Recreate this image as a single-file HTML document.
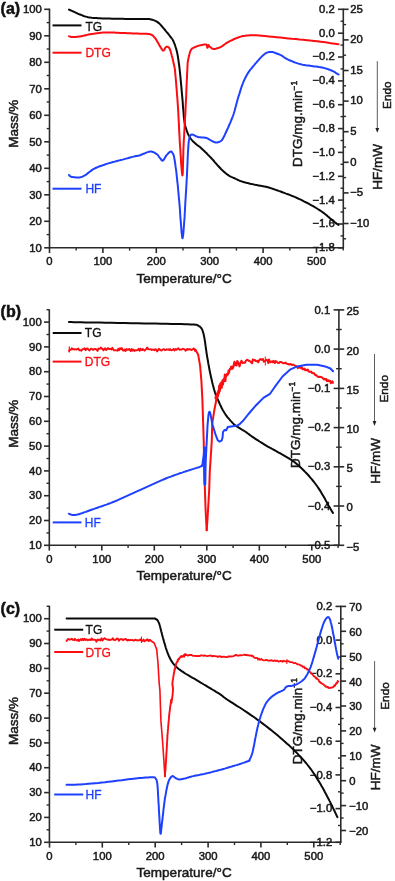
<!DOCTYPE html>
<html lang="en"><head><meta charset="utf-8"><title>TG / DTG / HF curves</title>
<style>html,body{margin:0;padding:0;background:#fff}svg{display:block;filter:blur(0.3px)}</style></head>
<body>
<svg width="395" height="881" viewBox="0 0 395 881" font-family='"Liberation Sans", Arial, Helvetica, sans-serif'>
<rect width="395" height="881" fill="#fff"/>
<line x1="49.5" y1="8.6" x2="49.5" y2="248.4" stroke="#2b2b2b" stroke-width="1.60"/>
<line x1="48.9" y1="247.8" x2="343.9" y2="247.8" stroke="#2b2b2b" stroke-width="1.60"/>
<line x1="343.3" y1="8.6" x2="343.3" y2="248.4" stroke="#2b2b2b" stroke-width="1.60"/>
<line x1="44.2" y1="9.3" x2="49.5" y2="9.3" stroke="#2b2b2b" stroke-width="1.60"/>
<text x="41.9" y="13.0" font-size="11.3" text-anchor="end" fill="#1a1a1a" stroke="#1a1a1a" stroke-width="0.50" font-weight="normal">100</text>
<line x1="46.7" y1="22.6" x2="49.5" y2="22.6" stroke="#2b2b2b" stroke-width="1.40"/>
<line x1="44.2" y1="35.8" x2="49.5" y2="35.8" stroke="#2b2b2b" stroke-width="1.60"/>
<text x="41.9" y="39.5" font-size="11.3" text-anchor="end" fill="#1a1a1a" stroke="#1a1a1a" stroke-width="0.50" font-weight="normal">90</text>
<line x1="46.7" y1="49.0" x2="49.5" y2="49.0" stroke="#2b2b2b" stroke-width="1.40"/>
<line x1="44.2" y1="62.3" x2="49.5" y2="62.3" stroke="#2b2b2b" stroke-width="1.60"/>
<text x="41.9" y="66.0" font-size="11.3" text-anchor="end" fill="#1a1a1a" stroke="#1a1a1a" stroke-width="0.50" font-weight="normal">80</text>
<line x1="46.7" y1="75.5" x2="49.5" y2="75.5" stroke="#2b2b2b" stroke-width="1.40"/>
<line x1="44.2" y1="88.8" x2="49.5" y2="88.8" stroke="#2b2b2b" stroke-width="1.60"/>
<text x="41.9" y="92.5" font-size="11.3" text-anchor="end" fill="#1a1a1a" stroke="#1a1a1a" stroke-width="0.50" font-weight="normal">70</text>
<line x1="46.7" y1="102.0" x2="49.5" y2="102.0" stroke="#2b2b2b" stroke-width="1.40"/>
<line x1="44.2" y1="115.3" x2="49.5" y2="115.3" stroke="#2b2b2b" stroke-width="1.60"/>
<text x="41.9" y="119.0" font-size="11.3" text-anchor="end" fill="#1a1a1a" stroke="#1a1a1a" stroke-width="0.50" font-weight="normal">60</text>
<line x1="46.7" y1="128.6" x2="49.5" y2="128.6" stroke="#2b2b2b" stroke-width="1.40"/>
<line x1="44.2" y1="141.8" x2="49.5" y2="141.8" stroke="#2b2b2b" stroke-width="1.60"/>
<text x="41.9" y="145.5" font-size="11.3" text-anchor="end" fill="#1a1a1a" stroke="#1a1a1a" stroke-width="0.50" font-weight="normal">50</text>
<line x1="46.7" y1="155.1" x2="49.5" y2="155.1" stroke="#2b2b2b" stroke-width="1.40"/>
<line x1="44.2" y1="168.3" x2="49.5" y2="168.3" stroke="#2b2b2b" stroke-width="1.60"/>
<text x="41.9" y="172.0" font-size="11.3" text-anchor="end" fill="#1a1a1a" stroke="#1a1a1a" stroke-width="0.50" font-weight="normal">40</text>
<line x1="46.7" y1="181.6" x2="49.5" y2="181.6" stroke="#2b2b2b" stroke-width="1.40"/>
<line x1="44.2" y1="194.8" x2="49.5" y2="194.8" stroke="#2b2b2b" stroke-width="1.60"/>
<text x="41.9" y="198.5" font-size="11.3" text-anchor="end" fill="#1a1a1a" stroke="#1a1a1a" stroke-width="0.50" font-weight="normal">30</text>
<line x1="46.7" y1="208.1" x2="49.5" y2="208.1" stroke="#2b2b2b" stroke-width="1.40"/>
<line x1="44.2" y1="221.3" x2="49.5" y2="221.3" stroke="#2b2b2b" stroke-width="1.60"/>
<text x="41.9" y="225.0" font-size="11.3" text-anchor="end" fill="#1a1a1a" stroke="#1a1a1a" stroke-width="0.50" font-weight="normal">20</text>
<line x1="46.7" y1="234.6" x2="49.5" y2="234.6" stroke="#2b2b2b" stroke-width="1.40"/>
<line x1="44.2" y1="247.8" x2="49.5" y2="247.8" stroke="#2b2b2b" stroke-width="1.60"/>
<text x="41.9" y="251.5" font-size="11.3" text-anchor="end" fill="#1a1a1a" stroke="#1a1a1a" stroke-width="0.50" font-weight="normal">10</text>
<line x1="49.5" y1="247.8" x2="49.5" y2="253.1" stroke="#2b2b2b" stroke-width="1.60"/>
<text x="49.5" y="265.3" font-size="11.3" text-anchor="middle" fill="#1a1a1a" stroke="#1a1a1a" stroke-width="0.50" font-weight="normal">0</text>
<line x1="76.2" y1="247.8" x2="76.2" y2="250.6" stroke="#2b2b2b" stroke-width="1.40"/>
<line x1="102.9" y1="247.8" x2="102.9" y2="253.1" stroke="#2b2b2b" stroke-width="1.60"/>
<text x="102.9" y="265.3" font-size="11.3" text-anchor="middle" fill="#1a1a1a" stroke="#1a1a1a" stroke-width="0.50" font-weight="normal">100</text>
<line x1="129.6" y1="247.8" x2="129.6" y2="250.6" stroke="#2b2b2b" stroke-width="1.40"/>
<line x1="156.3" y1="247.8" x2="156.3" y2="253.1" stroke="#2b2b2b" stroke-width="1.60"/>
<text x="156.3" y="265.3" font-size="11.3" text-anchor="middle" fill="#1a1a1a" stroke="#1a1a1a" stroke-width="0.50" font-weight="normal">200</text>
<line x1="183.0" y1="247.8" x2="183.0" y2="250.6" stroke="#2b2b2b" stroke-width="1.40"/>
<line x1="209.7" y1="247.8" x2="209.7" y2="253.1" stroke="#2b2b2b" stroke-width="1.60"/>
<text x="209.7" y="265.3" font-size="11.3" text-anchor="middle" fill="#1a1a1a" stroke="#1a1a1a" stroke-width="0.50" font-weight="normal">300</text>
<line x1="236.4" y1="247.8" x2="236.4" y2="250.6" stroke="#2b2b2b" stroke-width="1.40"/>
<line x1="263.1" y1="247.8" x2="263.1" y2="253.1" stroke="#2b2b2b" stroke-width="1.60"/>
<text x="263.1" y="265.3" font-size="11.3" text-anchor="middle" fill="#1a1a1a" stroke="#1a1a1a" stroke-width="0.50" font-weight="normal">400</text>
<line x1="289.8" y1="247.8" x2="289.8" y2="250.6" stroke="#2b2b2b" stroke-width="1.40"/>
<line x1="316.5" y1="247.8" x2="316.5" y2="253.1" stroke="#2b2b2b" stroke-width="1.60"/>
<text x="316.5" y="265.3" font-size="11.3" text-anchor="middle" fill="#1a1a1a" stroke="#1a1a1a" stroke-width="0.50" font-weight="normal">500</text>
<line x1="343.2" y1="247.8" x2="343.2" y2="250.6" stroke="#2b2b2b" stroke-width="1.40"/>
<line x1="338.0" y1="9.3" x2="343.3" y2="9.3" stroke="#2b2b2b" stroke-width="1.60"/>
<text x="334.7" y="12.7" font-size="11.3" text-anchor="end" fill="#1a1a1a" stroke="#1a1a1a" stroke-width="0.50" font-weight="normal">0.2</text>
<line x1="340.5" y1="21.2" x2="343.3" y2="21.2" stroke="#2b2b2b" stroke-width="1.40"/>
<line x1="338.0" y1="33.2" x2="343.3" y2="33.2" stroke="#2b2b2b" stroke-width="1.60"/>
<text x="334.7" y="36.6" font-size="11.3" text-anchor="end" fill="#1a1a1a" stroke="#1a1a1a" stroke-width="0.50" font-weight="normal">0.0</text>
<line x1="340.5" y1="45.1" x2="343.3" y2="45.1" stroke="#2b2b2b" stroke-width="1.40"/>
<line x1="338.0" y1="57.0" x2="343.3" y2="57.0" stroke="#2b2b2b" stroke-width="1.60"/>
<text x="334.7" y="60.4" font-size="11.3" text-anchor="end" fill="#1a1a1a" stroke="#1a1a1a" stroke-width="0.50" font-weight="normal">−0.2</text>
<line x1="340.5" y1="68.9" x2="343.3" y2="68.9" stroke="#2b2b2b" stroke-width="1.40"/>
<line x1="338.0" y1="80.9" x2="343.3" y2="80.9" stroke="#2b2b2b" stroke-width="1.60"/>
<text x="334.7" y="84.3" font-size="11.3" text-anchor="end" fill="#1a1a1a" stroke="#1a1a1a" stroke-width="0.50" font-weight="normal">−0.4</text>
<line x1="340.5" y1="92.8" x2="343.3" y2="92.8" stroke="#2b2b2b" stroke-width="1.40"/>
<line x1="338.0" y1="104.7" x2="343.3" y2="104.7" stroke="#2b2b2b" stroke-width="1.60"/>
<text x="334.7" y="108.1" font-size="11.3" text-anchor="end" fill="#1a1a1a" stroke="#1a1a1a" stroke-width="0.50" font-weight="normal">−0.6</text>
<line x1="340.5" y1="116.6" x2="343.3" y2="116.6" stroke="#2b2b2b" stroke-width="1.40"/>
<line x1="338.0" y1="128.6" x2="343.3" y2="128.6" stroke="#2b2b2b" stroke-width="1.60"/>
<text x="334.7" y="132.0" font-size="11.3" text-anchor="end" fill="#1a1a1a" stroke="#1a1a1a" stroke-width="0.50" font-weight="normal">−0.8</text>
<line x1="340.5" y1="140.5" x2="343.3" y2="140.5" stroke="#2b2b2b" stroke-width="1.40"/>
<line x1="338.0" y1="152.4" x2="343.3" y2="152.4" stroke="#2b2b2b" stroke-width="1.60"/>
<text x="334.7" y="155.8" font-size="11.3" text-anchor="end" fill="#1a1a1a" stroke="#1a1a1a" stroke-width="0.50" font-weight="normal">−1.0</text>
<line x1="340.5" y1="164.3" x2="343.3" y2="164.3" stroke="#2b2b2b" stroke-width="1.40"/>
<line x1="338.0" y1="176.3" x2="343.3" y2="176.3" stroke="#2b2b2b" stroke-width="1.60"/>
<text x="334.7" y="179.7" font-size="11.3" text-anchor="end" fill="#1a1a1a" stroke="#1a1a1a" stroke-width="0.50" font-weight="normal">−1.2</text>
<line x1="340.5" y1="188.2" x2="343.3" y2="188.2" stroke="#2b2b2b" stroke-width="1.40"/>
<line x1="338.0" y1="200.1" x2="343.3" y2="200.1" stroke="#2b2b2b" stroke-width="1.60"/>
<text x="334.7" y="203.5" font-size="11.3" text-anchor="end" fill="#1a1a1a" stroke="#1a1a1a" stroke-width="0.50" font-weight="normal">−1.4</text>
<line x1="340.5" y1="212.0" x2="343.3" y2="212.0" stroke="#2b2b2b" stroke-width="1.40"/>
<line x1="338.0" y1="224.0" x2="343.3" y2="224.0" stroke="#2b2b2b" stroke-width="1.60"/>
<text x="334.7" y="227.4" font-size="11.3" text-anchor="end" fill="#1a1a1a" stroke="#1a1a1a" stroke-width="0.50" font-weight="normal">−1.6</text>
<line x1="340.5" y1="235.9" x2="343.3" y2="235.9" stroke="#2b2b2b" stroke-width="1.40"/>
<line x1="338.0" y1="247.8" x2="343.3" y2="247.8" stroke="#2b2b2b" stroke-width="1.60"/>
<text x="334.7" y="251.2" font-size="11.3" text-anchor="end" fill="#1a1a1a" stroke="#1a1a1a" stroke-width="0.50" font-weight="normal">−1.8</text>
<line x1="343.3" y1="9.3" x2="348.6" y2="9.3" stroke="#2b2b2b" stroke-width="1.60"/>
<text x="350.2" y="12.6" font-size="11.3" text-anchor="start" fill="#1a1a1a" stroke="#1a1a1a" stroke-width="0.50" font-weight="normal">25</text>
<line x1="343.3" y1="39.9" x2="348.6" y2="39.9" stroke="#2b2b2b" stroke-width="1.60"/>
<text x="350.2" y="43.2" font-size="11.3" text-anchor="start" fill="#1a1a1a" stroke="#1a1a1a" stroke-width="0.50" font-weight="normal">20</text>
<line x1="343.3" y1="70.5" x2="348.6" y2="70.5" stroke="#2b2b2b" stroke-width="1.60"/>
<text x="350.2" y="73.8" font-size="11.3" text-anchor="start" fill="#1a1a1a" stroke="#1a1a1a" stroke-width="0.50" font-weight="normal">15</text>
<line x1="343.3" y1="101.1" x2="348.6" y2="101.1" stroke="#2b2b2b" stroke-width="1.60"/>
<text x="350.2" y="104.4" font-size="11.3" text-anchor="start" fill="#1a1a1a" stroke="#1a1a1a" stroke-width="0.50" font-weight="normal">10</text>
<line x1="343.3" y1="131.7" x2="348.6" y2="131.7" stroke="#2b2b2b" stroke-width="1.60"/>
<text x="350.2" y="135.0" font-size="11.3" text-anchor="start" fill="#1a1a1a" stroke="#1a1a1a" stroke-width="0.50" font-weight="normal">5</text>
<line x1="343.3" y1="162.3" x2="348.6" y2="162.3" stroke="#2b2b2b" stroke-width="1.60"/>
<text x="350.2" y="165.6" font-size="11.3" text-anchor="start" fill="#1a1a1a" stroke="#1a1a1a" stroke-width="0.50" font-weight="normal">0</text>
<line x1="343.3" y1="192.9" x2="348.6" y2="192.9" stroke="#2b2b2b" stroke-width="1.60"/>
<text x="350.2" y="196.2" font-size="11.3" text-anchor="start" fill="#1a1a1a" stroke="#1a1a1a" stroke-width="0.50" font-weight="normal">−5</text>
<line x1="343.3" y1="223.5" x2="348.6" y2="223.5" stroke="#2b2b2b" stroke-width="1.60"/>
<text x="350.2" y="226.8" font-size="11.3" text-anchor="start" fill="#1a1a1a" stroke="#1a1a1a" stroke-width="0.50" font-weight="normal">−10</text>
<line x1="343.3" y1="24.6" x2="346.1" y2="24.6" stroke="#2b2b2b" stroke-width="1.40"/>
<line x1="343.3" y1="55.2" x2="346.1" y2="55.2" stroke="#2b2b2b" stroke-width="1.40"/>
<line x1="343.3" y1="85.8" x2="346.1" y2="85.8" stroke="#2b2b2b" stroke-width="1.40"/>
<line x1="343.3" y1="116.4" x2="346.1" y2="116.4" stroke="#2b2b2b" stroke-width="1.40"/>
<line x1="343.3" y1="147.0" x2="346.1" y2="147.0" stroke="#2b2b2b" stroke-width="1.40"/>
<line x1="343.3" y1="177.6" x2="346.1" y2="177.6" stroke="#2b2b2b" stroke-width="1.40"/>
<line x1="343.3" y1="208.2" x2="346.1" y2="208.2" stroke="#2b2b2b" stroke-width="1.40"/>
<line x1="343.3" y1="238.8" x2="346.1" y2="238.8" stroke="#2b2b2b" stroke-width="1.40"/>
<text x="0.6" y="14.4" font-size="16.0" text-anchor="start" fill="#111" stroke="#111" stroke-width="0.50" font-weight="bold">(a)</text>
<text x="18.2" y="123.7" font-size="13.5" text-anchor="middle" fill="#1a1a1a" stroke="#1a1a1a" stroke-width="0.50" font-weight="normal" transform="rotate(-90 18.2 123.7)">Mass/%</text>
<text x="136.4" y="282.6" font-size="13.5" textLength="95.3" lengthAdjust="spacing" fill="#1a1a1a" stroke="#1a1a1a" stroke-width="0.5">Temperature/°C</text>
<text x="301.7" y="167.0" font-size="13.5" fill="#1a1a1a" stroke="#1a1a1a" stroke-width="0.5" transform="rotate(-90 301.7 167.0)">DTG/mg.min<tspan font-size="8.5" dy="-4.5">−1</tspan></text>
<text x="381.6" y="166.8" font-size="13.5" text-anchor="middle" fill="#1a1a1a" stroke="#1a1a1a" stroke-width="0.50" font-weight="normal" transform="rotate(-90 381.6 166.8)">HF/mW</text>
<text x="390.9" y="95.2" font-size="11.8" text-anchor="middle" fill="#1a1a1a" stroke="#1a1a1a" stroke-width="0.50" font-weight="normal" transform="rotate(-90 390.9 95.2)">Endo</text>
<line x1="377.3" y1="61.1" x2="377.3" y2="129.7" stroke="#333" stroke-width="0.80"/>
<path d="M375.4 127.9 L379.2 127.9 L377.3 132.7 Z" fill="#222"/>
<line x1="52.5" y1="25.4" x2="81.5" y2="25.4" stroke="#0a0a0a" stroke-width="2.00"/>
<text x="85.4" y="31.3" font-size="12.0" text-anchor="start" fill="#111" stroke="#111" stroke-width="0.30" font-weight="normal">TG</text>
<line x1="52.5" y1="52.7" x2="81.5" y2="52.7" stroke="#fb0d12" stroke-width="2.00"/>
<text x="85.4" y="57.4" font-size="12.0" text-anchor="start" fill="#fb0d12" stroke="#fb0d12" stroke-width="0.30" font-weight="normal">DTG</text>
<line x1="52.5" y1="188.7" x2="81.5" y2="188.7" stroke="#1e40ff" stroke-width="2.00"/>
<text x="85.4" y="193.0" font-size="12.0" text-anchor="start" fill="#1e40ff" stroke="#1e40ff" stroke-width="0.30" font-weight="normal">HF</text>
<path d="M69.0 9.6 L69.4 9.8 L69.9 10.0 L70.5 10.2 L71.1 10.5 L71.8 10.8 L72.6 11.2 L73.3 11.5 L74.0 11.8 L74.7 12.1 L75.4 12.4 L76.1 12.8 L76.8 13.1 L77.6 13.5 L78.3 13.8 L79.1 14.2 L80.0 14.5 L80.9 14.8 L81.8 15.2 L82.7 15.6 L83.6 16.0 L84.6 16.3 L85.7 16.6 L86.8 16.9 L88.0 17.2 L89.3 17.4 L90.5 17.6 L91.9 17.8 L93.2 17.9 L94.7 18.0 L96.3 18.1 L98.1 18.2 L100.0 18.3 L102.1 18.4 L104.4 18.5 L106.9 18.5 L109.5 18.6 L112.1 18.7 L114.8 18.7 L117.4 18.8 L120.0 18.8 L122.6 18.8 L125.2 18.9 L127.9 18.9 L130.6 18.9 L133.2 18.9 L135.7 19.0 L138.0 19.0 L140.0 19.0 L141.7 19.0 L143.3 19.0 L144.6 19.0 L145.8 19.0 L146.9 19.0 L147.9 19.0 L149.0 19.1 L150.1 19.3 L151.2 19.5 L152.3 19.8 L153.3 20.1 L154.3 20.4 L155.3 20.9 L156.3 21.3 L157.2 21.9 L158.2 22.6 L159.2 23.4 L160.2 24.4 L161.2 25.5 L162.2 26.6 L163.2 27.8 L164.1 28.9 L165.0 30.0 L165.8 31.0 L166.5 31.9 L167.2 32.7 L167.9 33.5 L168.5 34.2 L169.1 35.0 L169.6 35.7 L170.1 36.3 L170.6 37.0 L171.1 37.6 L171.5 38.1 L171.8 38.5 L172.2 39.0 L172.5 39.4 L172.8 40.0 L173.2 40.7 L173.6 41.6 L174.0 42.7 L174.5 43.8 L175.0 45.1 L175.4 46.5 L175.9 48.0 L176.4 49.6 L176.8 51.3 L177.2 53.0 L177.6 54.8 L177.9 56.7 L178.2 58.6 L178.5 60.6 L178.8 62.8 L179.1 65.0 L179.4 67.4 L179.7 70.0 L180.0 72.8 L180.3 75.7 L180.6 78.9 L180.9 82.1 L181.2 85.4 L181.5 88.8 L181.8 92.1 L182.1 95.3 L182.4 98.6 L182.7 102.0 L182.9 105.5 L183.2 108.9 L183.5 112.2 L183.7 115.3 L184.0 118.2 L184.3 120.6 L184.6 122.6 L184.9 124.3 L185.2 125.7 L185.5 126.9 L185.8 128.0 L186.2 128.9 L186.5 129.9 L186.8 130.8 L187.1 131.7 L187.4 132.5 L187.7 133.3 L188.0 133.9 L188.3 134.5 L188.6 135.1 L189.0 135.7 L189.3 136.3 L189.6 136.9 L190.0 137.5 L190.3 138.0 L190.7 138.5 L191.0 139.0 L191.4 139.5 L191.8 140.0 L192.2 140.5 L192.6 141.0 L193.1 141.5 L193.6 141.9 L194.1 142.4 L194.6 142.8 L195.1 143.3 L195.7 143.7 L196.2 144.2 L196.7 144.6 L197.2 145.0 L197.6 145.3 L198.1 145.6 L198.6 146.0 L199.2 146.5 L200.0 147.0 L200.8 147.8 L201.8 148.7 L202.9 149.8 L204.2 151.0 L205.5 152.3 L206.9 153.6 L208.2 155.0 L209.6 156.4 L210.9 157.7 L212.2 159.1 L213.5 160.5 L214.8 162.1 L216.1 163.6 L217.4 165.1 L218.7 166.5 L219.9 167.8 L221.0 169.0 L222.1 170.1 L223.1 171.0 L224.1 171.9 L225.1 172.7 L226.0 173.5 L226.9 174.2 L227.8 174.8 L228.6 175.4 L229.4 175.9 L230.1 176.3 L230.7 176.6 L231.3 176.9 L231.9 177.1 L232.5 177.4 L233.2 177.7 L234.0 178.0 L234.8 178.4 L235.6 178.8 L236.5 179.2 L237.4 179.7 L238.4 180.1 L239.4 180.6 L240.4 181.0 L241.6 181.4 L242.8 181.8 L244.2 182.2 L245.6 182.6 L247.0 182.9 L248.5 183.3 L250.1 183.7 L251.7 184.0 L253.3 184.4 L255.0 184.8 L256.7 185.1 L258.5 185.4 L260.4 185.7 L262.2 186.1 L264.1 186.4 L266.0 186.8 L267.8 187.3 L269.6 187.8 L271.4 188.4 L273.3 189.0 L275.1 189.6 L276.9 190.2 L278.7 190.9 L280.6 191.5 L282.4 192.2 L284.2 192.9 L286.1 193.6 L287.9 194.2 L289.7 194.9 L291.5 195.7 L293.4 196.4 L295.2 197.2 L297.0 198.0 L298.8 198.8 L300.7 199.7 L302.6 200.6 L304.4 201.6 L306.3 202.5 L308.1 203.4 L309.8 204.4 L311.5 205.3 L313.1 206.2 L314.7 207.1 L316.2 208.0 L317.7 209.0 L319.2 209.9 L320.6 210.8 L321.9 211.7 L323.2 212.6 L324.4 213.5 L325.6 214.5 L326.8 215.4 L327.9 216.4 L328.9 217.3 L329.9 218.2 L330.9 219.1 L331.9 219.9 L332.9 220.7 L333.9 221.4 L334.8 222.2 L335.7 222.9 L336.6 223.6 L337.4 224.1 L338.0 224.6 L338.5 225.0" fill="none" stroke="#0a0a0a" stroke-width="2.00" stroke-linejoin="round" stroke-linecap="round"/>
<path d="M69.0 36.2 L69.2 36.3 L69.4 36.4 L69.7 36.5 L70.0 36.6 L70.4 36.7 L70.8 36.8 L71.4 36.9 L72.0 36.9 L72.7 36.9 L73.6 36.9 L74.5 36.9 L75.6 36.9 L76.6 36.8 L77.7 36.8 L78.9 36.6 L80.0 36.5 L81.1 36.3 L82.2 36.1 L83.4 35.8 L84.6 35.5 L85.8 35.2 L87.1 34.9 L88.5 34.6 L90.0 34.3 L91.6 34.0 L93.4 33.8 L95.3 33.5 L97.2 33.2 L99.2 33.0 L101.1 32.8 L103.1 32.6 L105.0 32.5 L106.8 32.4 L108.6 32.4 L110.4 32.5 L112.2 32.5 L114.0 32.6 L115.9 32.7 L117.9 32.8 L120.0 32.9 L122.3 33.0 L124.9 33.1 L127.6 33.2 L130.3 33.3 L133.0 33.4 L135.6 33.5 L137.9 33.6 L140.0 33.7 L141.8 33.8 L143.3 33.8 L144.7 33.8 L145.9 33.8 L147.1 33.8 L148.1 33.9 L149.1 34.0 L150.0 34.2 L150.9 34.5 L151.6 34.8 L152.2 35.2 L152.8 35.6 L153.3 36.1 L153.8 36.6 L154.4 37.3 L155.0 38.0 L155.7 38.9 L156.4 40.0 L157.1 41.2 L157.8 42.4 L158.5 43.6 L159.1 44.8 L159.7 45.9 L160.3 46.8 L160.8 47.6 L161.2 48.3 L161.6 48.9 L162.0 49.5 L162.3 49.9 L162.6 50.3 L163.0 50.5 L163.3 50.6 L163.6 50.5 L164.0 50.2 L164.3 49.7 L164.6 49.1 L164.9 48.6 L165.2 48.0 L165.5 47.5 L165.8 47.2 L166.1 47.0 L166.4 46.8 L166.6 46.7 L166.9 46.7 L167.2 46.7 L167.4 46.7 L167.7 46.8 L168.0 47.0 L168.3 47.2 L168.6 47.4 L168.8 47.6 L169.1 47.8 L169.4 48.2 L169.7 48.8 L170.0 49.6 L170.4 50.6 L170.8 52.0 L171.3 53.7 L171.8 55.7 L172.4 57.8 L172.9 60.0 L173.4 62.2 L173.8 64.1 L174.2 65.8 L174.5 67.1 L174.6 68.0 L174.8 68.6 L174.9 69.3 L175.0 70.1 L175.1 71.2 L175.2 72.8 L175.4 75.0 L175.7 78.0 L176.0 81.5 L176.3 85.5 L176.7 89.8 L177.0 94.3 L177.4 98.9 L177.7 103.5 L178.0 108.0 L178.3 112.5 L178.5 117.1 L178.8 121.9 L179.0 126.7 L179.2 131.4 L179.5 136.1 L179.7 140.7 L180.0 145.0 L180.3 149.5 L180.6 154.5 L180.9 159.6 L181.2 164.4 L181.6 168.7 L181.9 172.2 L182.2 174.6 L182.4 175.4 L182.6 174.6 L182.8 172.2 L182.9 168.7 L183.0 164.4 L183.1 159.6 L183.3 154.5 L183.4 149.5 L183.6 145.0 L183.8 140.7 L184.1 136.2 L184.3 131.7 L184.6 127.0 L184.8 122.2 L185.1 117.5 L185.4 112.7 L185.6 108.0 L185.8 103.1 L186.1 97.9 L186.3 92.6 L186.5 87.3 L186.7 82.2 L187.0 77.5 L187.1 73.4 L187.3 70.0 L187.4 67.5 L187.5 65.7 L187.6 64.5 L187.6 63.7 L187.6 63.1 L187.7 62.5 L187.8 61.8 L188.0 60.8 L188.2 59.5 L188.5 58.2 L188.8 56.7 L189.1 55.3 L189.5 54.0 L189.8 52.7 L190.2 51.6 L190.6 50.6 L191.0 49.8 L191.4 49.3 L191.8 48.8 L192.3 48.4 L192.7 48.1 L193.2 47.9 L193.8 47.6 L194.4 47.3 L195.1 47.0 L195.8 46.7 L196.6 46.4 L197.5 46.1 L198.4 45.8 L199.2 45.6 L200.0 45.4 L200.8 45.2 L201.6 45.0 L202.3 44.9 L203.1 44.7 L203.9 44.6 L204.6 44.5 L205.3 44.4 L205.8 44.5 L206.3 44.6 L206.6 44.9 L206.9 45.3 L207.0 45.8 L207.1 46.3 L207.2 46.9 L207.2 47.3 L207.3 47.7 L207.4 47.8 L207.5 47.7 L207.7 47.4 L207.8 47.0 L207.9 46.5 L208.0 46.0 L208.1 45.5 L208.3 45.2 L208.4 45.0 L208.5 45.0 L208.6 45.0 L208.7 45.2 L208.8 45.4 L209.0 45.7 L209.1 46.0 L209.3 46.2 L209.6 46.5 L210.0 46.8 L210.4 47.1 L210.8 47.5 L211.3 47.9 L211.9 48.3 L212.4 48.6 L212.9 48.8 L213.4 49.0 L213.9 49.1 L214.3 49.1 L214.7 49.0 L215.2 48.9 L215.6 48.8 L216.1 48.6 L216.5 48.4 L217.0 48.3 L217.5 48.2 L217.9 48.1 L218.3 47.9 L218.8 47.8 L219.2 47.7 L219.7 47.4 L220.3 47.2 L221.0 46.8 L221.8 46.3 L222.6 45.8 L223.5 45.2 L224.4 44.5 L225.4 43.8 L226.4 43.1 L227.5 42.4 L228.6 41.8 L229.8 41.2 L231.0 40.6 L232.3 40.0 L233.6 39.3 L234.9 38.8 L236.2 38.2 L237.5 37.7 L238.7 37.3 L239.8 36.9 L240.9 36.6 L242.0 36.3 L243.0 36.1 L244.1 35.9 L245.1 35.8 L246.3 35.6 L247.5 35.5 L248.7 35.4 L249.8 35.3 L250.8 35.2 L252.0 35.2 L253.3 35.2 L254.8 35.3 L256.7 35.3 L259.0 35.5 L261.8 35.7 L265.1 36.0 L268.7 36.4 L272.5 36.8 L276.5 37.2 L280.5 37.6 L284.4 38.0 L288.2 38.4 L291.9 38.8 L295.7 39.1 L299.5 39.5 L303.2 39.8 L307.0 40.2 L310.6 40.6 L314.0 40.9 L317.3 41.3 L320.5 41.7 L323.7 42.1 L326.8 42.5 L329.7 43.0 L332.4 43.4 L334.9 43.8 L336.9 44.1 L338.5 44.3" fill="none" stroke="#fb0d12" stroke-width="2.00" stroke-linejoin="round" stroke-linecap="round"/>
<path d="M69.0 175.0 L69.1 175.1 L69.3 175.3 L69.4 175.5 L69.6 175.7 L69.8 175.9 L70.1 176.2 L70.3 176.4 L70.5 176.5 L70.7 176.6 L70.9 176.7 L71.1 176.8 L71.3 176.8 L71.5 176.9 L71.7 176.9 L72.0 176.9 L72.3 177.0 L72.7 177.1 L73.1 177.1 L73.5 177.2 L74.0 177.2 L74.5 177.3 L75.0 177.3 L75.5 177.4 L76.0 177.4 L76.5 177.4 L77.0 177.5 L77.6 177.5 L78.1 177.5 L78.7 177.5 L79.2 177.5 L79.8 177.4 L80.4 177.3 L81.0 177.1 L81.6 176.9 L82.3 176.7 L82.9 176.4 L83.6 176.0 L84.3 175.7 L84.9 175.4 L85.5 175.0 L86.1 174.6 L86.6 174.2 L87.2 173.8 L87.7 173.3 L88.3 172.9 L88.8 172.4 L89.4 171.9 L90.0 171.5 L90.6 171.1 L91.2 170.7 L91.7 170.2 L92.3 169.8 L92.9 169.4 L93.7 169.0 L94.6 168.5 L95.6 168.0 L96.8 167.5 L98.3 166.9 L99.8 166.3 L101.5 165.7 L103.2 165.1 L105.0 164.5 L106.7 163.9 L108.3 163.4 L109.9 162.9 L111.5 162.5 L113.1 162.0 L114.7 161.6 L116.2 161.2 L117.8 160.8 L119.4 160.4 L121.0 160.0 L122.6 159.6 L124.3 159.1 L126.0 158.6 L127.7 158.2 L129.3 157.7 L130.9 157.3 L132.3 156.9 L133.6 156.6 L134.7 156.3 L135.5 156.2 L136.3 156.0 L137.0 155.9 L137.6 155.8 L138.3 155.7 L139.1 155.5 L140.0 155.2 L141.1 154.8 L142.4 154.3 L143.7 153.7 L145.0 153.2 L146.4 152.6 L147.7 152.1 L149.0 151.8 L150.1 151.6 L151.1 151.6 L152.0 151.7 L152.9 152.0 L153.7 152.3 L154.5 152.7 L155.2 153.1 L155.9 153.6 L156.5 154.0 L157.1 154.4 L157.6 154.9 L158.1 155.4 L158.5 156.0 L158.9 156.5 L159.2 157.1 L159.6 157.6 L160.0 158.0 L160.4 158.4 L160.7 158.9 L161.1 159.4 L161.4 159.9 L161.7 160.3 L162.0 160.5 L162.4 160.7 L162.8 160.6 L163.2 160.3 L163.7 159.8 L164.2 159.1 L164.6 158.3 L165.1 157.4 L165.6 156.6 L166.1 155.8 L166.6 155.2 L167.1 154.6 L167.6 154.1 L168.1 153.5 L168.6 153.0 L169.1 152.5 L169.6 152.1 L170.0 151.8 L170.4 151.6 L170.7 151.5 L171.1 151.5 L171.3 151.6 L171.6 151.8 L171.8 152.0 L172.0 152.3 L172.3 152.6 L172.5 153.0 L172.7 153.3 L172.9 153.6 L173.1 153.9 L173.3 154.3 L173.5 154.8 L173.7 155.5 L174.0 156.5 L174.2 157.7 L174.5 159.2 L174.8 161.0 L175.1 163.0 L175.4 165.3 L175.7 167.6 L176.1 170.1 L176.4 172.7 L176.7 175.4 L177.0 178.2 L177.3 181.3 L177.7 184.5 L178.0 187.9 L178.3 191.2 L178.6 194.6 L178.9 197.8 L179.2 200.8 L179.4 203.7 L179.7 206.5 L179.9 209.3 L180.1 212.0 L180.2 214.6 L180.4 217.2 L180.6 219.6 L180.8 222.0 L181.0 224.5 L181.2 227.2 L181.4 229.9 L181.6 232.4 L181.9 234.7 L182.1 236.5 L182.3 237.8 L182.5 238.2 L182.7 237.8 L182.9 236.6 L183.2 234.8 L183.4 232.5 L183.6 229.9 L183.8 227.2 L184.0 224.5 L184.2 222.0 L184.4 219.5 L184.6 216.9 L184.7 214.2 L184.9 211.4 L185.0 208.5 L185.2 205.6 L185.3 202.8 L185.5 200.0 L185.7 197.3 L185.8 194.6 L186.0 192.0 L186.2 189.4 L186.3 186.7 L186.5 183.9 L186.6 181.0 L186.8 178.0 L187.0 174.7 L187.1 171.0 L187.3 167.2 L187.5 163.4 L187.6 159.6 L187.8 156.0 L187.9 152.8 L188.1 150.0 L188.3 147.7 L188.4 145.7 L188.5 144.0 L188.7 142.5 L188.8 141.2 L189.0 140.0 L189.2 139.0 L189.4 138.0 L189.6 137.1 L189.9 136.4 L190.1 135.8 L190.3 135.4 L190.6 135.1 L191.0 134.8 L191.4 134.7 L191.9 134.6 L192.5 134.6 L193.2 134.8 L193.9 135.1 L194.7 135.5 L195.6 136.0 L196.4 136.4 L197.3 136.7 L198.2 137.0 L199.1 137.2 L200.1 137.3 L201.1 137.4 L202.2 137.4 L203.2 137.5 L204.1 137.6 L205.0 137.7 L205.8 137.8 L206.5 138.0 L207.0 138.2 L207.5 138.4 L208.0 138.6 L208.4 138.9 L208.8 139.1 L209.2 139.4 L209.6 139.6 L210.0 139.8 L210.5 140.1 L210.9 140.3 L211.3 140.6 L211.7 140.8 L212.2 141.1 L212.6 141.3 L213.0 141.5 L213.4 141.7 L213.8 141.9 L214.2 142.1 L214.7 142.2 L215.1 142.4 L215.5 142.5 L216.0 142.5 L216.5 142.5 L217.1 142.4 L217.7 142.3 L218.3 142.2 L219.0 142.0 L219.6 141.7 L220.3 141.4 L220.9 141.0 L221.5 140.5 L222.0 140.0 L222.4 139.4 L222.8 138.8 L223.2 138.1 L223.6 137.3 L224.1 136.3 L224.7 135.1 L225.3 133.7 L226.1 132.0 L227.0 130.0 L228.0 127.9 L229.0 125.5 L230.1 123.1 L231.1 120.7 L232.0 118.3 L232.9 116.0 L233.7 113.8 L234.4 111.5 L235.0 109.2 L235.6 106.9 L236.2 104.7 L236.8 102.5 L237.4 100.3 L238.0 98.2 L238.6 96.1 L239.3 94.1 L239.9 92.1 L240.5 90.1 L241.1 88.2 L241.7 86.4 L242.4 84.6 L243.0 83.0 L243.6 81.5 L244.2 80.1 L244.9 78.8 L245.5 77.5 L246.1 76.3 L246.7 75.2 L247.4 74.0 L248.1 72.9 L248.8 71.8 L249.6 70.7 L250.3 69.7 L251.1 68.8 L251.9 67.8 L252.7 66.8 L253.5 65.8 L254.4 64.8 L255.3 63.7 L256.3 62.6 L257.3 61.4 L258.3 60.3 L259.3 59.2 L260.2 58.1 L261.2 57.1 L262.0 56.3 L262.8 55.6 L263.5 55.0 L264.1 54.4 L264.7 54.0 L265.3 53.5 L265.9 53.2 L266.5 52.9 L267.1 52.6 L267.7 52.4 L268.4 52.2 L269.0 52.1 L269.7 52.0 L270.3 51.9 L271.0 51.9 L271.6 52.0 L272.2 52.0 L272.8 52.1 L273.3 52.2 L273.9 52.4 L274.4 52.6 L275.0 52.8 L275.5 53.1 L276.1 53.3 L276.6 53.5 L277.1 53.7 L277.6 53.8 L278.1 54.0 L278.6 54.2 L279.1 54.3 L279.7 54.6 L280.3 54.9 L281.0 55.2 L281.7 55.6 L282.5 56.1 L283.3 56.7 L284.1 57.3 L285.0 57.9 L286.0 58.5 L287.1 59.1 L288.2 59.7 L289.4 60.3 L290.8 60.8 L292.3 61.4 L293.8 62.0 L295.3 62.6 L296.9 63.1 L298.4 63.6 L299.9 64.0 L301.4 64.4 L302.8 64.7 L304.3 64.9 L305.7 65.2 L307.1 65.4 L308.6 65.6 L310.0 65.8 L311.5 66.0 L313.0 66.2 L314.5 66.4 L316.0 66.6 L317.5 66.8 L319.0 67.1 L320.5 67.3 L321.9 67.5 L323.2 67.8 L324.4 68.1 L325.6 68.4 L326.8 68.8 L327.9 69.1 L328.9 69.5 L329.9 69.9 L330.9 70.3 L331.9 70.7 L332.9 71.2 L333.9 71.7 L334.8 72.2 L335.7 72.8 L336.6 73.3 L337.4 73.8 L338.0 74.2 L338.5 74.5" fill="none" stroke="#1e40ff" stroke-width="2.00" stroke-linejoin="round" stroke-linecap="round"/>
<line x1="49.3" y1="309.3" x2="49.3" y2="545.9" stroke="#2b2b2b" stroke-width="1.60"/>
<line x1="48.7" y1="545.3" x2="339.5" y2="545.3" stroke="#2b2b2b" stroke-width="1.60"/>
<line x1="338.9" y1="309.3" x2="338.9" y2="545.9" stroke="#2b2b2b" stroke-width="1.60"/>
<line x1="44.0" y1="322.1" x2="49.3" y2="322.1" stroke="#2b2b2b" stroke-width="1.60"/>
<text x="41.7" y="325.8" font-size="11.3" text-anchor="end" fill="#1a1a1a" stroke="#1a1a1a" stroke-width="0.50" font-weight="normal">100</text>
<line x1="46.5" y1="334.5" x2="49.3" y2="334.5" stroke="#2b2b2b" stroke-width="1.40"/>
<line x1="44.0" y1="346.9" x2="49.3" y2="346.9" stroke="#2b2b2b" stroke-width="1.60"/>
<text x="41.7" y="350.6" font-size="11.3" text-anchor="end" fill="#1a1a1a" stroke="#1a1a1a" stroke-width="0.50" font-weight="normal">90</text>
<line x1="46.5" y1="359.3" x2="49.3" y2="359.3" stroke="#2b2b2b" stroke-width="1.40"/>
<line x1="44.0" y1="371.7" x2="49.3" y2="371.7" stroke="#2b2b2b" stroke-width="1.60"/>
<text x="41.7" y="375.4" font-size="11.3" text-anchor="end" fill="#1a1a1a" stroke="#1a1a1a" stroke-width="0.50" font-weight="normal">80</text>
<line x1="46.5" y1="384.1" x2="49.3" y2="384.1" stroke="#2b2b2b" stroke-width="1.40"/>
<line x1="44.0" y1="396.5" x2="49.3" y2="396.5" stroke="#2b2b2b" stroke-width="1.60"/>
<text x="41.7" y="400.2" font-size="11.3" text-anchor="end" fill="#1a1a1a" stroke="#1a1a1a" stroke-width="0.50" font-weight="normal">70</text>
<line x1="46.5" y1="408.9" x2="49.3" y2="408.9" stroke="#2b2b2b" stroke-width="1.40"/>
<line x1="44.0" y1="421.3" x2="49.3" y2="421.3" stroke="#2b2b2b" stroke-width="1.60"/>
<text x="41.7" y="425.0" font-size="11.3" text-anchor="end" fill="#1a1a1a" stroke="#1a1a1a" stroke-width="0.50" font-weight="normal">60</text>
<line x1="46.5" y1="433.7" x2="49.3" y2="433.7" stroke="#2b2b2b" stroke-width="1.40"/>
<line x1="44.0" y1="446.1" x2="49.3" y2="446.1" stroke="#2b2b2b" stroke-width="1.60"/>
<text x="41.7" y="449.8" font-size="11.3" text-anchor="end" fill="#1a1a1a" stroke="#1a1a1a" stroke-width="0.50" font-weight="normal">50</text>
<line x1="46.5" y1="458.5" x2="49.3" y2="458.5" stroke="#2b2b2b" stroke-width="1.40"/>
<line x1="44.0" y1="470.9" x2="49.3" y2="470.9" stroke="#2b2b2b" stroke-width="1.60"/>
<text x="41.7" y="474.6" font-size="11.3" text-anchor="end" fill="#1a1a1a" stroke="#1a1a1a" stroke-width="0.50" font-weight="normal">40</text>
<line x1="46.5" y1="483.3" x2="49.3" y2="483.3" stroke="#2b2b2b" stroke-width="1.40"/>
<line x1="44.0" y1="495.7" x2="49.3" y2="495.7" stroke="#2b2b2b" stroke-width="1.60"/>
<text x="41.7" y="499.4" font-size="11.3" text-anchor="end" fill="#1a1a1a" stroke="#1a1a1a" stroke-width="0.50" font-weight="normal">30</text>
<line x1="46.5" y1="508.1" x2="49.3" y2="508.1" stroke="#2b2b2b" stroke-width="1.40"/>
<line x1="44.0" y1="520.5" x2="49.3" y2="520.5" stroke="#2b2b2b" stroke-width="1.60"/>
<text x="41.7" y="524.2" font-size="11.3" text-anchor="end" fill="#1a1a1a" stroke="#1a1a1a" stroke-width="0.50" font-weight="normal">20</text>
<line x1="46.5" y1="532.9" x2="49.3" y2="532.9" stroke="#2b2b2b" stroke-width="1.40"/>
<line x1="44.0" y1="545.3" x2="49.3" y2="545.3" stroke="#2b2b2b" stroke-width="1.60"/>
<text x="41.7" y="549.0" font-size="11.3" text-anchor="end" fill="#1a1a1a" stroke="#1a1a1a" stroke-width="0.50" font-weight="normal">10</text>
<line x1="46.5" y1="309.7" x2="49.3" y2="309.7" stroke="#2b2b2b" stroke-width="1.40"/>
<line x1="49.3" y1="545.3" x2="49.3" y2="550.6" stroke="#2b2b2b" stroke-width="1.60"/>
<text x="49.3" y="563.3" font-size="11.3" text-anchor="middle" fill="#1a1a1a" stroke="#1a1a1a" stroke-width="0.50" font-weight="normal">0</text>
<line x1="75.5" y1="545.3" x2="75.5" y2="548.1" stroke="#2b2b2b" stroke-width="1.40"/>
<line x1="101.8" y1="545.3" x2="101.8" y2="550.6" stroke="#2b2b2b" stroke-width="1.60"/>
<text x="101.8" y="563.3" font-size="11.3" text-anchor="middle" fill="#1a1a1a" stroke="#1a1a1a" stroke-width="0.50" font-weight="normal">100</text>
<line x1="128.1" y1="545.3" x2="128.1" y2="548.1" stroke="#2b2b2b" stroke-width="1.40"/>
<line x1="154.3" y1="545.3" x2="154.3" y2="550.6" stroke="#2b2b2b" stroke-width="1.60"/>
<text x="154.3" y="563.3" font-size="11.3" text-anchor="middle" fill="#1a1a1a" stroke="#1a1a1a" stroke-width="0.50" font-weight="normal">200</text>
<line x1="180.6" y1="545.3" x2="180.6" y2="548.1" stroke="#2b2b2b" stroke-width="1.40"/>
<line x1="206.8" y1="545.3" x2="206.8" y2="550.6" stroke="#2b2b2b" stroke-width="1.60"/>
<text x="206.8" y="563.3" font-size="11.3" text-anchor="middle" fill="#1a1a1a" stroke="#1a1a1a" stroke-width="0.50" font-weight="normal">300</text>
<line x1="233.1" y1="545.3" x2="233.1" y2="548.1" stroke="#2b2b2b" stroke-width="1.40"/>
<line x1="259.3" y1="545.3" x2="259.3" y2="550.6" stroke="#2b2b2b" stroke-width="1.60"/>
<text x="259.3" y="563.3" font-size="11.3" text-anchor="middle" fill="#1a1a1a" stroke="#1a1a1a" stroke-width="0.50" font-weight="normal">400</text>
<line x1="285.6" y1="545.3" x2="285.6" y2="548.1" stroke="#2b2b2b" stroke-width="1.40"/>
<line x1="311.8" y1="545.3" x2="311.8" y2="550.6" stroke="#2b2b2b" stroke-width="1.60"/>
<text x="311.8" y="563.3" font-size="11.3" text-anchor="middle" fill="#1a1a1a" stroke="#1a1a1a" stroke-width="0.50" font-weight="normal">500</text>
<line x1="338.1" y1="545.3" x2="338.1" y2="548.1" stroke="#2b2b2b" stroke-width="1.40"/>
<line x1="333.6" y1="309.9" x2="344.2" y2="309.9" stroke="#2b2b2b" stroke-width="1.60"/>
<text x="330.3" y="313.5" font-size="11.3" text-anchor="end" fill="#1a1a1a" stroke="#1a1a1a" stroke-width="0.50" font-weight="normal">0.1</text>
<line x1="336.1" y1="329.5" x2="341.7" y2="329.5" stroke="#2b2b2b" stroke-width="1.40"/>
<line x1="333.6" y1="349.1" x2="344.2" y2="349.1" stroke="#2b2b2b" stroke-width="1.60"/>
<text x="330.3" y="352.7" font-size="11.3" text-anchor="end" fill="#1a1a1a" stroke="#1a1a1a" stroke-width="0.50" font-weight="normal">0.0</text>
<line x1="336.1" y1="368.7" x2="341.7" y2="368.7" stroke="#2b2b2b" stroke-width="1.40"/>
<line x1="333.6" y1="388.4" x2="344.2" y2="388.4" stroke="#2b2b2b" stroke-width="1.60"/>
<text x="330.3" y="392.0" font-size="11.3" text-anchor="end" fill="#1a1a1a" stroke="#1a1a1a" stroke-width="0.50" font-weight="normal">−0.1</text>
<line x1="336.1" y1="408.0" x2="341.7" y2="408.0" stroke="#2b2b2b" stroke-width="1.40"/>
<line x1="333.6" y1="427.6" x2="344.2" y2="427.6" stroke="#2b2b2b" stroke-width="1.60"/>
<text x="330.3" y="431.2" font-size="11.3" text-anchor="end" fill="#1a1a1a" stroke="#1a1a1a" stroke-width="0.50" font-weight="normal">−0.2</text>
<line x1="336.1" y1="447.2" x2="341.7" y2="447.2" stroke="#2b2b2b" stroke-width="1.40"/>
<line x1="333.6" y1="466.8" x2="344.2" y2="466.8" stroke="#2b2b2b" stroke-width="1.60"/>
<text x="330.3" y="470.4" font-size="11.3" text-anchor="end" fill="#1a1a1a" stroke="#1a1a1a" stroke-width="0.50" font-weight="normal">−0.3</text>
<line x1="336.1" y1="486.4" x2="341.7" y2="486.4" stroke="#2b2b2b" stroke-width="1.40"/>
<line x1="333.6" y1="506.0" x2="344.2" y2="506.0" stroke="#2b2b2b" stroke-width="1.60"/>
<text x="330.3" y="509.6" font-size="11.3" text-anchor="end" fill="#1a1a1a" stroke="#1a1a1a" stroke-width="0.50" font-weight="normal">−0.4</text>
<line x1="336.1" y1="525.7" x2="341.7" y2="525.7" stroke="#2b2b2b" stroke-width="1.40"/>
<line x1="333.6" y1="545.3" x2="344.2" y2="545.3" stroke="#2b2b2b" stroke-width="1.60"/>
<text x="330.3" y="548.9" font-size="11.3" text-anchor="end" fill="#1a1a1a" stroke="#1a1a1a" stroke-width="0.50" font-weight="normal">−0.5</text>
<text x="346.5" y="315.3" font-size="11.3" text-anchor="start" fill="#1a1a1a" stroke="#1a1a1a" stroke-width="0.50" font-weight="normal">25</text>
<text x="346.5" y="354.5" font-size="11.3" text-anchor="start" fill="#1a1a1a" stroke="#1a1a1a" stroke-width="0.50" font-weight="normal">20</text>
<text x="346.5" y="393.8" font-size="11.3" text-anchor="start" fill="#1a1a1a" stroke="#1a1a1a" stroke-width="0.50" font-weight="normal">15</text>
<text x="346.5" y="433.0" font-size="11.3" text-anchor="start" fill="#1a1a1a" stroke="#1a1a1a" stroke-width="0.50" font-weight="normal">10</text>
<text x="346.5" y="472.2" font-size="11.3" text-anchor="start" fill="#1a1a1a" stroke="#1a1a1a" stroke-width="0.50" font-weight="normal">5</text>
<text x="346.5" y="511.4" font-size="11.3" text-anchor="start" fill="#1a1a1a" stroke="#1a1a1a" stroke-width="0.50" font-weight="normal">0</text>
<text x="346.5" y="550.7" font-size="11.3" text-anchor="start" fill="#1a1a1a" stroke="#1a1a1a" stroke-width="0.50" font-weight="normal">−5</text>
<text x="0.6" y="316.5" font-size="16.0" text-anchor="start" fill="#111" stroke="#111" stroke-width="0.50" font-weight="bold">(b)</text>
<text x="18.2" y="423.7" font-size="13.5" text-anchor="middle" fill="#1a1a1a" stroke="#1a1a1a" stroke-width="0.50" font-weight="normal" transform="rotate(-90 18.2 423.7)">Mass/%</text>
<text x="136.4" y="579.6" font-size="13.5" textLength="95.3" lengthAdjust="spacing" fill="#1a1a1a" stroke="#1a1a1a" stroke-width="0.5">Temperature/°C</text>
<text x="299.8" y="468.0" font-size="13.5" fill="#1a1a1a" stroke="#1a1a1a" stroke-width="0.5" transform="rotate(-90 299.8 468.0)">DTG/mg.min<tspan font-size="8.5" dy="-4.5">−1</tspan></text>
<text x="380.4" y="460.8" font-size="13.5" text-anchor="middle" fill="#1a1a1a" stroke="#1a1a1a" stroke-width="0.50" font-weight="normal" transform="rotate(-90 380.4 460.8)">HF/mW</text>
<text x="388.3" y="388.8" font-size="11.8" text-anchor="middle" fill="#1a1a1a" stroke="#1a1a1a" stroke-width="0.50" font-weight="normal" transform="rotate(-90 388.3 388.8)">Endo</text>
<line x1="374.5" y1="354.0" x2="374.5" y2="422.9" stroke="#333" stroke-width="0.80"/>
<path d="M372.6 421.1 L376.4 421.1 L374.5 425.9 Z" fill="#222"/>
<line x1="52.7" y1="333.0" x2="81.5" y2="333.0" stroke="#0a0a0a" stroke-width="2.00"/>
<text x="84.8" y="336.8" font-size="12.0" text-anchor="start" fill="#111" stroke="#111" stroke-width="0.30" font-weight="normal">TG</text>
<line x1="52.7" y1="361.6" x2="81.5" y2="361.6" stroke="#fb0d12" stroke-width="2.00"/>
<text x="84.8" y="365.6" font-size="12.0" text-anchor="start" fill="#fb0d12" stroke="#fb0d12" stroke-width="0.30" font-weight="normal">DTG</text>
<line x1="52.7" y1="522.4" x2="81.5" y2="522.4" stroke="#1e40ff" stroke-width="2.00"/>
<text x="84.8" y="526.5" font-size="12.0" text-anchor="start" fill="#1e40ff" stroke="#1e40ff" stroke-width="0.30" font-weight="normal">HF</text>
<path d="M68.9 322.1 L71.2 322.1 L74.0 322.2 L77.5 322.2 L81.3 322.3 L85.6 322.4 L90.2 322.4 L95.0 322.5 L100.0 322.6 L105.4 322.7 L111.5 322.8 L117.9 322.9 L124.6 323.0 L131.3 323.2 L137.9 323.3 L144.2 323.4 L150.0 323.5 L155.5 323.6 L161.1 323.7 L166.5 323.8 L171.7 323.9 L176.5 324.0 L181.0 324.1 L184.8 324.2 L188.0 324.3 L190.4 324.4 L192.0 324.4 L193.1 324.5 L193.7 324.5 L194.0 324.5 L194.3 324.6 L194.5 324.6 L195.0 324.7 L195.6 324.8 L196.0 324.8 L196.4 324.8 L196.8 324.9 L197.1 325.0 L197.4 325.1 L197.7 325.3 L198.1 325.5 L198.6 325.8 L199.0 326.1 L199.5 326.4 L200.0 326.8 L200.5 327.2 L201.0 327.8 L201.5 328.4 L201.9 329.1 L202.3 329.9 L202.6 330.7 L202.9 331.7 L203.2 332.7 L203.5 333.8 L203.8 335.0 L204.1 336.4 L204.4 338.0 L204.7 339.8 L205.0 341.7 L205.3 343.9 L205.6 346.1 L205.9 348.5 L206.3 350.9 L206.6 353.3 L207.0 355.7 L207.4 358.1 L207.9 360.7 L208.3 363.4 L208.8 366.0 L209.3 368.7 L209.8 371.2 L210.3 373.7 L210.8 376.0 L211.3 378.2 L211.8 380.3 L212.2 382.3 L212.7 384.3 L213.2 386.1 L213.7 387.9 L214.1 389.5 L214.6 391.1 L215.0 392.5 L215.4 393.7 L215.8 394.8 L216.2 395.8 L216.6 396.7 L217.0 397.7 L217.5 398.8 L218.1 400.1 L218.7 401.5 L219.4 403.1 L220.1 404.7 L220.9 406.3 L221.7 408.0 L222.6 409.7 L223.5 411.3 L224.4 412.8 L225.4 414.3 L226.5 415.8 L227.6 417.3 L228.8 418.7 L230.0 420.1 L231.2 421.4 L232.3 422.6 L233.3 423.6 L234.2 424.5 L235.1 425.2 L236.0 425.9 L236.8 426.4 L237.6 427.0 L238.4 427.4 L239.2 427.9 L240.0 428.4 L240.8 428.9 L241.5 429.3 L242.2 429.8 L242.9 430.2 L243.6 430.6 L244.3 431.0 L245.1 431.5 L245.9 432.0 L246.7 432.6 L247.5 433.2 L248.3 433.8 L249.1 434.4 L250.0 435.1 L251.0 435.8 L252.1 436.6 L253.3 437.4 L254.7 438.3 L256.2 439.3 L257.9 440.4 L259.6 441.5 L261.4 442.6 L263.1 443.7 L264.9 444.8 L266.6 445.8 L268.3 446.8 L269.9 447.7 L271.6 448.6 L273.2 449.5 L274.9 450.4 L276.6 451.3 L278.2 452.3 L279.9 453.2 L281.6 454.2 L283.3 455.1 L285.0 456.1 L286.7 457.1 L288.4 458.1 L290.1 459.1 L291.7 460.1 L293.2 461.2 L294.7 462.3 L296.0 463.4 L297.4 464.5 L298.7 465.6 L299.9 466.8 L301.2 468.0 L302.5 469.2 L303.8 470.5 L305.1 471.9 L306.5 473.3 L307.9 474.8 L309.3 476.3 L310.6 477.9 L311.9 479.4 L313.2 481.0 L314.4 482.5 L315.5 484.0 L316.6 485.5 L317.7 487.0 L318.6 488.4 L319.6 489.9 L320.6 491.4 L321.5 492.9 L322.4 494.4 L323.3 495.9 L324.2 497.5 L325.1 499.1 L325.9 500.7 L326.8 502.3 L327.6 503.8 L328.3 505.2 L329.0 506.4 L329.7 507.5 L330.3 508.6 L330.9 509.6 L331.4 510.4 L331.9 511.2 L332.3 511.9 L332.7 512.5 L333.0 513.0" fill="none" stroke="#0a0a0a" stroke-width="2.00" stroke-linejoin="round" stroke-linecap="round"/>
<path d="M69.0 350.9 L69.9 349.9 L70.8 349.7 L71.8 348.2 L72.9 349.4 L73.7 349.3 L74.6 349.5 L75.4 349.1 L76.4 349.5 L77.3 349.2 L78.3 348.5 L79.3 350.2 L80.3 350.1 L81.4 350.8 L82.2 349.5 L83.1 349.2 L83.9 349.0 L84.7 348.3 L85.6 350.2 L86.5 348.6 L87.4 348.5 L88.3 349.3 L89.3 350.5 L90.2 349.6 L91.1 348.6 L92.1 348.9 L93.1 349.9 L94.0 349.3 L95.0 348.8 L96.0 349.2 L96.8 350.0 L97.6 350.9 L98.4 348.5 L99.2 348.9 L100.0 348.8 L100.9 347.6 L101.7 348.7 L102.6 348.6 L103.4 350.3 L104.3 349.3 L105.2 348.2 L106.2 349.9 L107.1 349.2 L108.0 348.1 L109.0 349.0 L109.8 349.0 L110.6 348.8 L111.5 349.5 L112.3 347.8 L113.1 349.3 L114.0 350.3 L114.9 350.1 L115.7 350.4 L116.6 350.4 L117.5 350.7 L118.3 348.7 L119.2 350.2 L120.1 348.2 L121.0 349.1 L121.9 348.1 L122.8 350.4 L123.7 350.6 L124.6 349.5 L125.5 351.0 L126.4 349.1 L127.3 349.8 L128.2 349.8 L129.1 348.9 L130.0 350.0 L130.8 351.1 L131.7 348.9 L132.6 350.4 L133.5 349.6 L134.4 351.0 L135.3 350.1 L136.1 350.2 L137.0 350.2 L137.9 349.9 L138.7 348.7 L139.6 350.8 L140.5 348.7 L141.3 349.9 L142.1 350.2 L142.9 349.1 L143.8 349.9 L144.6 350.7 L145.4 349.8 L146.3 349.1 L147.2 347.6 L148.2 349.1 L149.1 349.4 L150.0 349.4 L150.9 349.1 L151.8 350.1 L152.7 349.4 L153.5 349.7 L154.4 350.3 L155.3 349.1 L156.2 349.5 L157.1 351.4 L158.0 350.4 L158.9 348.8 L159.7 349.7 L160.6 350.2 L161.5 350.6 L162.4 349.8 L163.2 349.3 L164.1 349.1 L165.0 350.2 L165.8 349.9 L166.7 349.3 L167.5 349.5 L168.3 349.3 L169.2 350.2 L170.0 349.1 L170.8 350.0 L171.7 350.2 L172.6 349.9 L173.6 348.9 L174.6 350.5 L175.6 349.0 L176.5 349.8 L177.4 348.9 L178.3 348.2 L179.2 349.6 L180.0 349.7 L180.9 349.4 L181.7 349.6 L182.5 348.9 L183.5 348.9 L184.5 349.3 L185.5 350.8 L186.3 350.0 L187.2 349.0 L188.0 349.8 L189.0 349.1 L190.0 349.1 L191.6 350.1 L192.8 349.2 L193.6 348.4 L194.2 349.0 L194.6 349.9 L194.8 350.0 L195.1 350.9 L195.3 349.5 L195.6 350.6" fill="none" stroke="#fb0d12" stroke-width="1.90" stroke-linejoin="round" stroke-linecap="round"/>
<path d="M195.6 350.1 L198.1 354.4 L200.1 365.8 L201.4 381.0 L202.4 400.0 L203.7 440.6 L204.3 471.4 L205.6 510.0 L206.7 530.2" fill="none" stroke="#fb0d12" stroke-width="2.00" stroke-linejoin="round" stroke-linecap="round"/>
<path d="M206.7 530.2 L207.5 519.0 L209.2 490.0 L209.8 471.4 L211.8 440.6 L212.2 423.8 L214.3 410.3 L216.3 400.0" fill="none" stroke="#fb0d12" stroke-width="2.00" stroke-linejoin="round" stroke-linecap="round"/>
<path d="M216.3 401.2 L216.5 398.9 L216.7 395.2 L217.0 397.1 L217.4 393.9 L217.7 396.8 L218.1 394.7 L218.5 393.8 L218.9 390.0 L219.2 385.6 L219.6 390.7 L220.0 390.4 L220.3 383.6 L220.7 386.4 L221.0 387.9 L221.4 382.3 L221.8 387.7 L222.1 382.5 L222.5 380.3 L223.0 384.6 L223.4 381.6 L223.9 378.8 L224.3 381.1 L224.8 374.4 L225.4 381.1 L225.9 374.9 L226.4 376.2 L226.9 373.9 L227.5 374.7 L228.0 374.7 L228.5 370.6 L229.0 372.9 L229.5 370.2 L230.0 368.7 L230.5 368.9 L231.0 366.8 L231.5 366.5 L232.0 369.1 L232.5 366.5 L233.0 368.3 L233.5 366.5 L234.0 363.6 L234.4 361.8 L234.8 363.6 L235.2 365.0 L235.6 364.3 L236.1 362.8 L236.6 365.6 L237.2 361.0 L237.8 361.6 L238.6 363.5 L239.5 366.4 L240.4 363.3 L241.4 360.8 L242.5 362.9 L243.7 362.7 L244.9 362.8 L246.1 360.5 L247.4 359.7 L248.7 360.8 L250.0 361.1 L251.4 362.6 L252.1 363.3 L252.8 359.4 L253.6 359.7 L254.3 360.4 L255.1 360.1 L255.9 361.1 L256.7 361.2 L257.4 360.9 L258.2 362.3 L259.0 360.5 L259.8 359.6 L260.6 359.0 L261.4 359.7 L262.2 359.8 L263.0 359.0 L263.8 361.8 L264.5 361.3 L265.3 360.8 L266.0 360.3 L266.8 359.7 L267.5 360.4 L268.3 363.1 L269.0 359.4 L269.8 361.6 L270.5 362.2 L271.3 361.7 L272.0 361.4 L272.7 362.3 L273.5 360.8 L274.2 362.2 L274.9 363.0 L275.6 361.1 L276.4 361.4 L277.1 362.2 L277.8 362.8 L278.5 363.1 L279.2 362.8 L279.9 362.0 L281.3 361.9 L282.6 363.0 L284.0 363.3 L285.3 362.6 L286.6 363.6 L287.9 364.0 L289.3 364.6 L290.6 363.9 L291.9 365.0 L293.2 364.6 L294.5 365.3 L295.9 365.9 L297.2 367.0 L297.9 368.1 L298.5 366.9 L299.2 367.3 L299.9 367.8 L300.5 366.8 L301.2 368.1 L301.9 367.4 L302.5 369.1 L303.2 369.3 L303.8 369.1 L304.5 368.6 L305.2 370.3 L305.8 369.8 L306.5 370.0 L307.2 370.5 L307.8 369.5 L308.5 371.1 L309.2 371.8 L309.9 371.7 L310.6 371.9 L311.3 371.6 L312.0 373.0 L312.7 373.0 L313.4 373.3 L314.1 373.2 L314.8 374.5 L315.5 375.2 L316.1 374.9 L316.8 375.6 L317.4 376.3 L318.6 377.1 L319.7 376.7 L320.7 376.9 L321.7 377.2 L322.6 378.0 L323.4 378.8 L324.2 379.5 L324.9 378.8 L325.7 379.7 L326.4 379.1 L327.0 381.2 L327.7 380.2 L328.4 381.1 L329.0 380.4 L329.7 381.0 L330.3 380.9 L330.8 383.2 L331.4 382.2 L331.9 381.9 L332.3 381.3 L332.7 381.8 L333.0 382.9" fill="none" stroke="#fb0d12" stroke-width="2.00" stroke-linejoin="round" stroke-linecap="round"/>
<line x1="265.3" y1="356.5" x2="265.3" y2="365.5" stroke="#fb0d12" stroke-width="1.00"/>
<line x1="69.3" y1="346.5" x2="69.3" y2="352.5" stroke="#fb0d12" stroke-width="1.20"/>
<path d="M216.0 398.0 L219.0 391.0" fill="none" stroke="#fb0d12" stroke-width="3.20" stroke-linejoin="round" stroke-linecap="round"/>
<path d="M68.9 513.7 L69.1 513.8 L69.3 513.9 L69.5 514.0 L69.8 514.1 L70.0 514.3 L70.3 514.4 L70.7 514.5 L71.0 514.6 L71.4 514.7 L71.7 514.8 L72.1 514.9 L72.6 514.9 L73.0 515.0 L73.4 515.1 L73.8 515.1 L74.2 515.1 L74.6 515.1 L74.9 515.1 L75.2 515.0 L75.5 515.0 L75.9 514.9 L76.2 514.8 L76.6 514.7 L77.0 514.6 L77.4 514.5 L77.7 514.4 L78.1 514.4 L78.4 514.3 L78.9 514.2 L79.5 514.0 L80.3 513.7 L81.3 513.4 L82.6 513.0 L84.0 512.4 L85.7 511.9 L87.5 511.2 L89.4 510.5 L91.4 509.8 L93.4 509.1 L95.4 508.4 L97.4 507.7 L99.6 506.9 L101.8 506.2 L104.1 505.4 L106.4 504.6 L108.7 503.7 L111.0 502.9 L113.2 502.0 L115.4 501.1 L117.6 500.2 L119.8 499.2 L122.1 498.2 L124.3 497.2 L126.5 496.2 L128.7 495.2 L130.9 494.2 L133.1 493.2 L135.3 492.2 L137.5 491.2 L139.8 490.1 L142.0 489.1 L144.2 488.1 L146.4 487.1 L148.6 486.1 L150.8 485.1 L153.0 484.1 L155.2 483.1 L157.4 482.1 L159.7 481.1 L161.9 480.1 L164.1 479.2 L166.3 478.3 L168.5 477.4 L170.8 476.6 L173.1 475.7 L175.4 474.9 L177.7 474.1 L179.9 473.3 L182.1 472.6 L184.1 471.9 L186.1 471.2 L188.1 470.6 L190.0 470.0 L191.9 469.4 L193.6 468.9 L195.2 468.4 L196.7 467.9 L197.9 467.5 L198.9 467.2 L199.7 466.9 L200.3 466.6 L200.8 466.4 L201.1 466.3 L201.4 466.1 L201.7 466.0 L201.9 465.9" fill="none" stroke="#1e40ff" stroke-width="2.00" stroke-linejoin="round" stroke-linecap="round"/>
<path d="M201.9 465.9 L202.6 463.5 L203.7 455.1 L204.5 447.4 L204.9 485.0 L205.6 462.9 L206.6 443.6 L207.6 424.3 L208.5 414.6 L209.1 412.3 L209.6 411.8 L210.1 412.6 L210.6 414.8 L212.4 424.3 L215.3 433.9 L217.7 440.2 L219.6 441.6 L221.6 440.7 L222.5 437.8 L223.0 432.0 L224.4 430.0 L226.2 430.2 L227.8 427.0 L232.9 426.2 L237.6 425.4 L240.0 423.8 L243.4 420.4 L248.5 414.0 L256.1 405.2 L263.7 397.6 L270.0 393.8 L274.6 387.2 L282.5 376.5 L290.5 369.3 L297.2 366.4 L306.5 364.8 L317.1 364.8 L325.1 366.4 L330.4 368.5 L333.0 371.2" fill="none" stroke="#1e40ff" stroke-width="2.00" stroke-linejoin="round" stroke-linecap="round"/>
<line x1="204.6" y1="447.5" x2="204.9" y2="484.5" stroke="#1e40ff" stroke-width="2.90"/>
<line x1="49.4" y1="605.7" x2="49.4" y2="842.9" stroke="#2b2b2b" stroke-width="1.60"/>
<line x1="48.8" y1="842.3" x2="341.4" y2="842.3" stroke="#2b2b2b" stroke-width="1.60"/>
<line x1="340.8" y1="605.7" x2="340.8" y2="842.9" stroke="#2b2b2b" stroke-width="1.60"/>
<line x1="44.1" y1="618.7" x2="49.4" y2="618.7" stroke="#2b2b2b" stroke-width="1.60"/>
<text x="41.8" y="622.4" font-size="11.3" text-anchor="end" fill="#1a1a1a" stroke="#1a1a1a" stroke-width="0.50" font-weight="normal">100</text>
<line x1="46.6" y1="631.1" x2="49.4" y2="631.1" stroke="#2b2b2b" stroke-width="1.40"/>
<line x1="44.1" y1="643.5" x2="49.4" y2="643.5" stroke="#2b2b2b" stroke-width="1.60"/>
<text x="41.8" y="647.2" font-size="11.3" text-anchor="end" fill="#1a1a1a" stroke="#1a1a1a" stroke-width="0.50" font-weight="normal">90</text>
<line x1="46.6" y1="656.0" x2="49.4" y2="656.0" stroke="#2b2b2b" stroke-width="1.40"/>
<line x1="44.1" y1="668.4" x2="49.4" y2="668.4" stroke="#2b2b2b" stroke-width="1.60"/>
<text x="41.8" y="672.1" font-size="11.3" text-anchor="end" fill="#1a1a1a" stroke="#1a1a1a" stroke-width="0.50" font-weight="normal">80</text>
<line x1="46.6" y1="680.8" x2="49.4" y2="680.8" stroke="#2b2b2b" stroke-width="1.40"/>
<line x1="44.1" y1="693.2" x2="49.4" y2="693.2" stroke="#2b2b2b" stroke-width="1.60"/>
<text x="41.8" y="696.9" font-size="11.3" text-anchor="end" fill="#1a1a1a" stroke="#1a1a1a" stroke-width="0.50" font-weight="normal">70</text>
<line x1="46.6" y1="705.6" x2="49.4" y2="705.6" stroke="#2b2b2b" stroke-width="1.40"/>
<line x1="44.1" y1="718.1" x2="49.4" y2="718.1" stroke="#2b2b2b" stroke-width="1.60"/>
<text x="41.8" y="721.8" font-size="11.3" text-anchor="end" fill="#1a1a1a" stroke="#1a1a1a" stroke-width="0.50" font-weight="normal">60</text>
<line x1="46.6" y1="730.5" x2="49.4" y2="730.5" stroke="#2b2b2b" stroke-width="1.40"/>
<line x1="44.1" y1="742.9" x2="49.4" y2="742.9" stroke="#2b2b2b" stroke-width="1.60"/>
<text x="41.8" y="746.6" font-size="11.3" text-anchor="end" fill="#1a1a1a" stroke="#1a1a1a" stroke-width="0.50" font-weight="normal">50</text>
<line x1="46.6" y1="755.3" x2="49.4" y2="755.3" stroke="#2b2b2b" stroke-width="1.40"/>
<line x1="44.1" y1="767.7" x2="49.4" y2="767.7" stroke="#2b2b2b" stroke-width="1.60"/>
<text x="41.8" y="771.4" font-size="11.3" text-anchor="end" fill="#1a1a1a" stroke="#1a1a1a" stroke-width="0.50" font-weight="normal">40</text>
<line x1="46.6" y1="780.2" x2="49.4" y2="780.2" stroke="#2b2b2b" stroke-width="1.40"/>
<line x1="44.1" y1="792.6" x2="49.4" y2="792.6" stroke="#2b2b2b" stroke-width="1.60"/>
<text x="41.8" y="796.3" font-size="11.3" text-anchor="end" fill="#1a1a1a" stroke="#1a1a1a" stroke-width="0.50" font-weight="normal">30</text>
<line x1="46.6" y1="805.0" x2="49.4" y2="805.0" stroke="#2b2b2b" stroke-width="1.40"/>
<line x1="44.1" y1="817.4" x2="49.4" y2="817.4" stroke="#2b2b2b" stroke-width="1.60"/>
<text x="41.8" y="821.1" font-size="11.3" text-anchor="end" fill="#1a1a1a" stroke="#1a1a1a" stroke-width="0.50" font-weight="normal">20</text>
<line x1="46.6" y1="829.8" x2="49.4" y2="829.8" stroke="#2b2b2b" stroke-width="1.40"/>
<line x1="44.1" y1="842.3" x2="49.4" y2="842.3" stroke="#2b2b2b" stroke-width="1.60"/>
<text x="41.8" y="846.0" font-size="11.3" text-anchor="end" fill="#1a1a1a" stroke="#1a1a1a" stroke-width="0.50" font-weight="normal">10</text>
<line x1="46.6" y1="606.3" x2="49.4" y2="606.3" stroke="#2b2b2b" stroke-width="1.40"/>
<line x1="49.5" y1="842.3" x2="49.5" y2="847.6" stroke="#2b2b2b" stroke-width="1.60"/>
<text x="49.5" y="860.0" font-size="11.3" text-anchor="middle" fill="#1a1a1a" stroke="#1a1a1a" stroke-width="0.50" font-weight="normal">0</text>
<line x1="75.9" y1="842.3" x2="75.9" y2="845.1" stroke="#2b2b2b" stroke-width="1.40"/>
<line x1="102.3" y1="842.3" x2="102.3" y2="847.6" stroke="#2b2b2b" stroke-width="1.60"/>
<text x="102.3" y="860.0" font-size="11.3" text-anchor="middle" fill="#1a1a1a" stroke="#1a1a1a" stroke-width="0.50" font-weight="normal">100</text>
<line x1="128.8" y1="842.3" x2="128.8" y2="845.1" stroke="#2b2b2b" stroke-width="1.40"/>
<line x1="155.2" y1="842.3" x2="155.2" y2="847.6" stroke="#2b2b2b" stroke-width="1.60"/>
<text x="155.2" y="860.0" font-size="11.3" text-anchor="middle" fill="#1a1a1a" stroke="#1a1a1a" stroke-width="0.50" font-weight="normal">200</text>
<line x1="181.6" y1="842.3" x2="181.6" y2="845.1" stroke="#2b2b2b" stroke-width="1.40"/>
<line x1="208.1" y1="842.3" x2="208.1" y2="847.6" stroke="#2b2b2b" stroke-width="1.60"/>
<text x="208.1" y="860.0" font-size="11.3" text-anchor="middle" fill="#1a1a1a" stroke="#1a1a1a" stroke-width="0.50" font-weight="normal">300</text>
<line x1="234.5" y1="842.3" x2="234.5" y2="845.1" stroke="#2b2b2b" stroke-width="1.40"/>
<line x1="260.9" y1="842.3" x2="260.9" y2="847.6" stroke="#2b2b2b" stroke-width="1.60"/>
<text x="260.9" y="860.0" font-size="11.3" text-anchor="middle" fill="#1a1a1a" stroke="#1a1a1a" stroke-width="0.50" font-weight="normal">400</text>
<line x1="287.3" y1="842.3" x2="287.3" y2="845.1" stroke="#2b2b2b" stroke-width="1.40"/>
<line x1="313.8" y1="842.3" x2="313.8" y2="847.6" stroke="#2b2b2b" stroke-width="1.60"/>
<text x="313.8" y="860.0" font-size="11.3" text-anchor="middle" fill="#1a1a1a" stroke="#1a1a1a" stroke-width="0.50" font-weight="normal">500</text>
<line x1="340.2" y1="842.3" x2="340.2" y2="845.1" stroke="#2b2b2b" stroke-width="1.40"/>
<line x1="335.5" y1="606.4" x2="340.8" y2="606.4" stroke="#2b2b2b" stroke-width="1.60"/>
<text x="332.2" y="610.0" font-size="11.3" text-anchor="end" fill="#1a1a1a" stroke="#1a1a1a" stroke-width="0.50" font-weight="normal">0.2</text>
<line x1="338.0" y1="623.2" x2="340.8" y2="623.2" stroke="#2b2b2b" stroke-width="1.40"/>
<line x1="335.5" y1="640.1" x2="340.8" y2="640.1" stroke="#2b2b2b" stroke-width="1.60"/>
<text x="332.2" y="643.7" font-size="11.3" text-anchor="end" fill="#1a1a1a" stroke="#1a1a1a" stroke-width="0.50" font-weight="normal">0.0</text>
<line x1="338.0" y1="657.0" x2="340.8" y2="657.0" stroke="#2b2b2b" stroke-width="1.40"/>
<line x1="335.5" y1="673.8" x2="340.8" y2="673.8" stroke="#2b2b2b" stroke-width="1.60"/>
<text x="332.2" y="677.4" font-size="11.3" text-anchor="end" fill="#1a1a1a" stroke="#1a1a1a" stroke-width="0.50" font-weight="normal">−0.2</text>
<line x1="338.0" y1="690.6" x2="340.8" y2="690.6" stroke="#2b2b2b" stroke-width="1.40"/>
<line x1="335.5" y1="707.5" x2="340.8" y2="707.5" stroke="#2b2b2b" stroke-width="1.60"/>
<text x="332.2" y="711.1" font-size="11.3" text-anchor="end" fill="#1a1a1a" stroke="#1a1a1a" stroke-width="0.50" font-weight="normal">−0.4</text>
<line x1="338.0" y1="724.4" x2="340.8" y2="724.4" stroke="#2b2b2b" stroke-width="1.40"/>
<line x1="335.5" y1="741.2" x2="340.8" y2="741.2" stroke="#2b2b2b" stroke-width="1.60"/>
<text x="332.2" y="744.8" font-size="11.3" text-anchor="end" fill="#1a1a1a" stroke="#1a1a1a" stroke-width="0.50" font-weight="normal">−0.6</text>
<line x1="338.0" y1="758.1" x2="340.8" y2="758.1" stroke="#2b2b2b" stroke-width="1.40"/>
<line x1="335.5" y1="774.9" x2="340.8" y2="774.9" stroke="#2b2b2b" stroke-width="1.60"/>
<text x="332.2" y="778.5" font-size="11.3" text-anchor="end" fill="#1a1a1a" stroke="#1a1a1a" stroke-width="0.50" font-weight="normal">−0.8</text>
<line x1="338.0" y1="791.8" x2="340.8" y2="791.8" stroke="#2b2b2b" stroke-width="1.40"/>
<line x1="335.5" y1="808.6" x2="340.8" y2="808.6" stroke="#2b2b2b" stroke-width="1.60"/>
<text x="332.2" y="812.2" font-size="11.3" text-anchor="end" fill="#1a1a1a" stroke="#1a1a1a" stroke-width="0.50" font-weight="normal">−1.0</text>
<line x1="338.0" y1="825.5" x2="340.8" y2="825.5" stroke="#2b2b2b" stroke-width="1.40"/>
<line x1="335.5" y1="842.3" x2="340.8" y2="842.3" stroke="#2b2b2b" stroke-width="1.60"/>
<text x="332.2" y="845.9" font-size="11.3" text-anchor="end" fill="#1a1a1a" stroke="#1a1a1a" stroke-width="0.50" font-weight="normal">−1.2</text>
<line x1="340.8" y1="606.4" x2="346.1" y2="606.4" stroke="#2b2b2b" stroke-width="1.60"/>
<text x="349.2" y="610.8" font-size="11.3" text-anchor="start" fill="#1a1a1a" stroke="#1a1a1a" stroke-width="0.50" font-weight="normal">70</text>
<line x1="340.8" y1="631.3" x2="346.1" y2="631.3" stroke="#2b2b2b" stroke-width="1.60"/>
<text x="349.2" y="635.7" font-size="11.3" text-anchor="start" fill="#1a1a1a" stroke="#1a1a1a" stroke-width="0.50" font-weight="normal">60</text>
<line x1="340.8" y1="656.2" x2="346.1" y2="656.2" stroke="#2b2b2b" stroke-width="1.60"/>
<text x="349.2" y="660.6" font-size="11.3" text-anchor="start" fill="#1a1a1a" stroke="#1a1a1a" stroke-width="0.50" font-weight="normal">50</text>
<line x1="340.8" y1="681.1" x2="346.1" y2="681.1" stroke="#2b2b2b" stroke-width="1.60"/>
<text x="349.2" y="685.5" font-size="11.3" text-anchor="start" fill="#1a1a1a" stroke="#1a1a1a" stroke-width="0.50" font-weight="normal">40</text>
<line x1="340.8" y1="706.0" x2="346.1" y2="706.0" stroke="#2b2b2b" stroke-width="1.60"/>
<text x="349.2" y="710.4" font-size="11.3" text-anchor="start" fill="#1a1a1a" stroke="#1a1a1a" stroke-width="0.50" font-weight="normal">30</text>
<line x1="340.8" y1="730.9" x2="346.1" y2="730.9" stroke="#2b2b2b" stroke-width="1.60"/>
<text x="349.2" y="735.3" font-size="11.3" text-anchor="start" fill="#1a1a1a" stroke="#1a1a1a" stroke-width="0.50" font-weight="normal">20</text>
<line x1="340.8" y1="755.8" x2="346.1" y2="755.8" stroke="#2b2b2b" stroke-width="1.60"/>
<text x="349.2" y="760.2" font-size="11.3" text-anchor="start" fill="#1a1a1a" stroke="#1a1a1a" stroke-width="0.50" font-weight="normal">10</text>
<line x1="340.8" y1="780.7" x2="346.1" y2="780.7" stroke="#2b2b2b" stroke-width="1.60"/>
<text x="349.2" y="785.1" font-size="11.3" text-anchor="start" fill="#1a1a1a" stroke="#1a1a1a" stroke-width="0.50" font-weight="normal">0</text>
<line x1="340.8" y1="805.6" x2="346.1" y2="805.6" stroke="#2b2b2b" stroke-width="1.60"/>
<text x="349.2" y="810.0" font-size="11.3" text-anchor="start" fill="#1a1a1a" stroke="#1a1a1a" stroke-width="0.50" font-weight="normal">−10</text>
<line x1="340.8" y1="830.5" x2="346.1" y2="830.5" stroke="#2b2b2b" stroke-width="1.60"/>
<text x="349.2" y="834.9" font-size="11.3" text-anchor="start" fill="#1a1a1a" stroke="#1a1a1a" stroke-width="0.50" font-weight="normal">−20</text>
<line x1="340.8" y1="618.9" x2="343.6" y2="618.9" stroke="#2b2b2b" stroke-width="1.40"/>
<line x1="340.8" y1="643.8" x2="343.6" y2="643.8" stroke="#2b2b2b" stroke-width="1.40"/>
<line x1="340.8" y1="668.6" x2="343.6" y2="668.6" stroke="#2b2b2b" stroke-width="1.40"/>
<line x1="340.8" y1="693.5" x2="343.6" y2="693.5" stroke="#2b2b2b" stroke-width="1.40"/>
<line x1="340.8" y1="718.5" x2="343.6" y2="718.5" stroke="#2b2b2b" stroke-width="1.40"/>
<line x1="340.8" y1="743.4" x2="343.6" y2="743.4" stroke="#2b2b2b" stroke-width="1.40"/>
<line x1="340.8" y1="768.2" x2="343.6" y2="768.2" stroke="#2b2b2b" stroke-width="1.40"/>
<line x1="340.8" y1="793.1" x2="343.6" y2="793.1" stroke="#2b2b2b" stroke-width="1.40"/>
<line x1="340.8" y1="818.0" x2="343.6" y2="818.0" stroke="#2b2b2b" stroke-width="1.40"/>
<text x="0.6" y="614.0" font-size="16.0" text-anchor="start" fill="#111" stroke="#111" stroke-width="0.50" font-weight="bold">(c)</text>
<text x="18.2" y="721.0" font-size="13.5" text-anchor="middle" fill="#1a1a1a" stroke="#1a1a1a" stroke-width="0.50" font-weight="normal" transform="rotate(-90 18.2 721.0)">Mass/%</text>
<text x="136.4" y="876.8" font-size="13.5" textLength="95.3" lengthAdjust="spacing" fill="#1a1a1a" stroke="#1a1a1a" stroke-width="0.5">Temperature/°C</text>
<text x="301.8" y="764.2" font-size="13.5" fill="#1a1a1a" stroke="#1a1a1a" stroke-width="0.5" transform="rotate(-90 301.8 764.2)">DTG/mg.min<tspan font-size="8.5" dy="-4.5">−1</tspan></text>
<text x="380.4" y="767.4" font-size="13.5" text-anchor="middle" fill="#1a1a1a" stroke="#1a1a1a" stroke-width="0.50" font-weight="normal" transform="rotate(-90 380.4 767.4)">HF/mW</text>
<text x="389.2" y="696.0" font-size="11.8" text-anchor="middle" fill="#1a1a1a" stroke="#1a1a1a" stroke-width="0.50" font-weight="normal" transform="rotate(-90 389.2 696.0)">Endo</text>
<line x1="374.6" y1="661.0" x2="374.6" y2="729.6" stroke="#333" stroke-width="0.80"/>
<path d="M372.7 727.8 L376.5 727.8 L374.6 732.6 Z" fill="#222"/>
<line x1="54.2" y1="629.7" x2="83.2" y2="629.7" stroke="#0a0a0a" stroke-width="2.00"/>
<text x="85.6" y="633.9" font-size="12.0" text-anchor="start" fill="#111" stroke="#111" stroke-width="0.30" font-weight="normal">TG</text>
<line x1="54.2" y1="652.0" x2="83.2" y2="652.0" stroke="#fb0d12" stroke-width="2.00"/>
<text x="85.6" y="656.7" font-size="12.0" text-anchor="start" fill="#fb0d12" stroke="#fb0d12" stroke-width="0.30" font-weight="normal">DTG</text>
<line x1="54.2" y1="794.5" x2="83.2" y2="794.5" stroke="#1e40ff" stroke-width="2.00"/>
<text x="85.6" y="798.6" font-size="12.0" text-anchor="start" fill="#1e40ff" stroke="#1e40ff" stroke-width="0.30" font-weight="normal">HF</text>
<path d="M66.6 618.6 L69.2 618.6 L72.7 618.6 L76.8 618.6 L81.4 618.6 L86.3 618.5 L91.1 618.5 L95.8 618.5 L100.0 618.5 L104.0 618.5 L107.9 618.5 L111.8 618.5 L115.7 618.5 L119.4 618.5 L123.1 618.5 L126.6 618.5 L130.0 618.5 L133.3 618.5 L136.7 618.5 L140.0 618.5 L143.2 618.5 L146.1 618.5 L148.8 618.5 L151.1 618.5 L152.9 618.5 L154.2 618.5 L155.0 618.6 L155.4 618.6 L155.5 618.7 L155.5 618.7 L155.4 618.8 L155.3 618.9 L155.5 619.0 L155.8 619.1 L156.0 619.2 L156.3 619.3 L156.5 619.4 L156.8 619.5 L157.0 619.7 L157.2 620.0 L157.5 620.3 L157.8 620.7 L158.0 621.1 L158.3 621.6 L158.5 622.1 L158.8 622.7 L159.1 623.4 L159.4 624.3 L159.7 625.3 L160.1 626.5 L160.4 627.9 L160.8 629.5 L161.2 631.2 L161.7 632.9 L162.1 634.7 L162.6 636.4 L163.0 638.0 L163.5 639.6 L163.9 641.2 L164.4 642.9 L164.9 644.5 L165.4 646.2 L165.8 647.7 L166.3 649.2 L166.8 650.6 L167.3 651.9 L167.7 653.1 L168.2 654.3 L168.6 655.4 L169.1 656.5 L169.6 657.5 L170.1 658.5 L170.6 659.5 L171.2 660.5 L171.7 661.4 L172.3 662.2 L172.9 663.1 L173.5 663.9 L174.2 664.7 L174.9 665.5 L175.7 666.3 L176.5 667.1 L177.3 667.8 L178.1 668.5 L179.0 669.2 L180.0 669.9 L181.0 670.6 L182.1 671.4 L183.3 672.2 L184.6 673.1 L186.1 674.0 L187.7 674.9 L189.3 675.8 L190.9 676.8 L192.6 677.8 L194.3 678.7 L195.9 679.7 L197.5 680.6 L199.1 681.6 L200.7 682.6 L202.3 683.5 L203.9 684.5 L205.5 685.4 L207.1 686.4 L208.6 687.3 L210.1 688.2 L211.6 689.1 L213.2 690.0 L214.7 690.9 L216.1 691.8 L217.5 692.6 L218.8 693.4 L220.0 694.2 L221.0 694.9 L221.8 695.5 L222.5 696.1 L223.2 696.6 L223.9 697.2 L224.7 697.8 L225.8 698.6 L227.1 699.5 L228.8 700.6 L230.7 701.8 L232.8 703.2 L235.0 704.6 L237.3 706.1 L239.7 707.5 L242.0 709.0 L244.2 710.5 L246.3 711.9 L248.5 713.4 L250.6 714.9 L252.8 716.3 L254.9 717.8 L257.0 719.4 L259.2 720.9 L261.3 722.5 L263.4 724.1 L265.6 725.7 L267.7 727.4 L269.9 729.1 L272.0 730.8 L274.1 732.5 L276.3 734.3 L278.4 736.1 L280.6 737.9 L282.7 739.8 L284.9 741.7 L287.1 743.7 L289.3 745.6 L291.4 747.6 L293.4 749.6 L295.4 751.5 L297.3 753.4 L299.1 755.4 L300.9 757.3 L302.7 759.2 L304.4 761.1 L306.0 763.0 L307.6 765.0 L309.1 766.9 L310.6 768.8 L312.0 770.8 L313.3 772.7 L314.6 774.6 L315.8 776.5 L317.0 778.4 L318.2 780.4 L319.4 782.3 L320.6 784.3 L321.7 786.3 L322.9 788.3 L324.0 790.3 L325.0 792.3 L326.1 794.2 L327.0 796.0 L327.9 797.7 L328.7 799.2 L329.4 800.6 L330.1 801.9 L330.7 803.2 L331.3 804.4 L331.9 805.5 L332.4 806.7 L333.0 807.9 L333.6 809.2 L334.3 810.5 L334.9 811.8 L335.5 813.1 L336.1 814.4 L336.6 815.5 L337.1 816.4 L337.4 817.1" fill="none" stroke="#0a0a0a" stroke-width="2.00" stroke-linejoin="round" stroke-linecap="round"/>
<path d="M66.6 640.9 L68.0 639.0 L68.8 639.3 L69.7 639.7 L70.7 639.4 L71.7 638.8 L72.8 639.8 L74.0 640.2 L74.8 638.8 L75.6 639.8 L76.4 640.3 L77.3 640.3 L78.2 639.4 L79.0 641.0 L79.9 640.0 L80.9 639.1 L81.8 640.2 L82.7 638.9 L83.6 640.1 L84.5 638.8 L85.4 640.0 L86.4 639.2 L87.3 640.2 L88.2 640.0 L89.1 639.8 L90.0 639.5 L90.9 640.1 L91.8 638.4 L92.7 639.8 L93.7 639.7 L94.6 639.8 L95.6 640.0 L96.5 641.7 L97.5 639.6 L98.5 640.0 L99.5 639.6 L100.5 640.4 L101.5 638.3 L102.5 640.5 L103.5 639.1 L104.6 638.2 L105.6 638.9 L106.6 639.4 L107.7 639.7 L108.7 639.5 L109.7 640.1 L110.8 639.6 L111.8 639.6 L112.8 638.3 L113.9 639.9 L114.9 640.2 L115.9 639.4 L117.0 638.5 L118.0 638.9 L119.0 640.7 L120.0 639.3 L121.1 639.3 L122.1 639.2 L123.2 640.2 L124.0 639.4 L124.9 639.3 L125.7 638.9 L126.5 639.8 L127.4 640.5 L128.3 639.8 L129.2 640.4 L130.0 640.0 L130.9 640.0 L131.8 640.1 L132.7 640.0 L133.6 640.6 L134.5 640.3 L135.3 639.7 L136.2 640.2 L137.1 640.1 L137.9 640.4 L138.7 640.3 L139.6 640.4 L140.4 639.3 L141.4 640.5 L142.5 641.1 L143.5 639.5 L144.4 641.3 L145.3 640.5 L146.3 640.3 L147.4 639.3 L148.6 641.1 L149.5 639.9 L150.4 640.2" fill="none" stroke="#fb0d12" stroke-width="1.90" stroke-linejoin="round" stroke-linecap="round"/>
<path d="M150.4 640.5 L154.2 643.0 L156.7 649.4 L158.0 663.3 L159.2 683.5 L159.9 690.0 L160.9 720.4 L162.9 745.7 L164.9 776.1" fill="none" stroke="#fb0d12" stroke-width="1.60" stroke-linejoin="round" stroke-linecap="round"/>
<path d="M164.9 776.4 L165.0 774.7 L165.0 773.7 L165.1 772.4 L165.2 771.5 L165.4 770.4 L165.5 768.6 L165.6 766.9 L165.7 764.7 L165.9 763.0 L165.9 761.6 L166.0 761.9 L166.1 759.9 L166.1 757.8 L166.2 757.0 L166.3 757.2 L166.3 754.5 L166.4 753.7 L166.5 752.8 L166.6 750.7 L166.6 750.5 L166.7 749.4 L166.8 746.8 L166.9 746.4 L166.9 744.0 L167.0 742.6 L167.1 741.9 L167.2 740.6 L167.3 738.9 L167.3 738.4 L167.4 736.1 L167.5 735.2 L167.6 733.9 L167.7 733.7 L167.7 732.6 L167.8 731.4 L167.9 729.3 L168.0 728.9 L168.1 728.0 L168.2 725.9 L168.3 725.2 L168.4 724.9 L168.4 723.9 L168.5 722.7 L168.7 720.8 L168.9 718.9 L169.0 717.0 L169.2 715.2 L169.4 713.3 L169.5 712.2 L169.7 710.8 L169.8 710.9 L170.0 708.7 L170.1 707.5 L170.2 706.4 L170.4 705.6 L170.5 704.6 L170.6 704.3 L170.7 703.3 L170.8 703.1 L170.8 701.9 L170.9 702.0 L171.0 701.9 L171.0 700.6 L171.1 701.0 L171.1 700.9 L171.2 700.4 L171.2 700.3 L171.2 699.6 L171.3 701.3 L171.3 700.5 L171.3 700.8 L171.3 702.1 L171.4 701.2 L171.4 702.9 L171.5 702.7 L171.5 702.7 L171.6 701.9 L171.7 700.7 L171.8 699.4 L172.0 699.9 L172.2 697.7 L172.4 696.2 L172.5 695.8 L172.7 693.3 L172.8 692.1 L172.9 690.9 L173.0 689.9 L173.0 688.6 L173.0 688.2 L172.9 688.5 L172.8 687.7 L172.7 685.3 L172.5 685.3 L172.5 685.9 L172.4 685.0 L172.4 684.2 L172.4 684.0 L172.5 681.6 L172.6 681.9 L172.8 680.1 L173.0 679.0 L173.2 677.5 L173.4 676.4 L173.7 674.5 L173.9 673.0 L174.2 672.4 L174.4 671.0 L174.6 669.2 L174.9 669.5 L175.1 668.4 L175.3 667.6 L175.6 666.0 L175.8 665.3 L176.1 664.1 L176.4 663.0 L176.7 662.7 L177.0 662.1 L177.3 661.0 L177.7 661.6 L178.0 659.3 L178.4 659.2 L178.8 658.7 L179.1 659.2 L179.5 658.0 L179.9 657.6 L180.4 656.9 L180.8 656.6 L181.3 656.0 L181.8 656.9 L182.4 656.4 L183.0 656.3 L183.5 655.3 L184.1 656.7 L184.6 654.8 L185.1 654.1 L185.5 654.9 L185.8 655.0" fill="none" stroke="#fb0d12" stroke-width="1.90" stroke-linejoin="round" stroke-linecap="round"/>
<path d="M185.8 655.2 L186.4 654.6 L187.1 655.2 L188.0 655.7 L189.0 654.9 L190.1 655.0 L191.2 654.8 L192.4 655.6 L193.6 655.9 L194.7 655.9 L195.9 656.0 L197.1 656.2 L198.3 655.8 L199.6 656.1 L200.9 655.4 L202.2 655.4 L203.5 655.8 L204.8 655.4 L206.1 655.9 L207.4 656.1 L208.6 655.8 L209.8 655.5 L211.0 655.6 L212.1 656.4 L213.3 655.8 L214.4 656.2 L215.6 656.2 L216.7 656.4 L217.8 656.9 L218.9 656.4 L220.0 656.1 L221.1 657.1 L222.1 656.7 L223.1 656.9 L224.1 656.7 L225.1 656.9 L226.1 657.1 L227.1 657.1 L228.2 656.5 L229.3 656.4 L230.5 656.5 L231.8 656.3 L233.1 656.3 L234.5 655.6 L236.0 654.9 L237.5 655.6 L238.9 655.5 L240.4 655.2 L241.7 655.4 L243.0 655.0 L244.2 654.6 L245.3 655.1 L246.2 654.8 L247.1 655.3 L248.0 655.1 L248.8 655.4 L249.5 655.5 L250.3 655.7 L251.1 655.4 L251.9 656.2 L252.7 655.6 L253.5 656.9 L254.3 657.4 L255.0 658.1 L255.7 657.9 L256.5 657.9 L257.2 658.0 L258.1 659.6 L259.0 658.7 L260.1 659.9 L261.3 659.0 L262.7 660.0 L263.5 660.3 L264.3 660.3 L265.2 660.2 L266.1 660.0 L267.0 660.0 L267.9 660.7 L268.9 660.6 L269.9 660.4 L270.8 660.6 L271.8 660.2 L272.7 660.9 L273.6 661.0 L274.5 660.4 L275.4 660.7 L276.2 661.1 L277.0 660.5 L278.4 661.5 L279.6 661.4 L280.7 660.8 L281.6 661.3 L282.4 661.6 L283.2 660.7 L283.9 661.4 L284.6 661.2 L285.3 661.2 L286.1 661.6 L286.9 661.3 L287.7 661.1 L288.6 661.2 L289.4 661.8 L290.2 662.2 L291.0 662.1 L291.9 662.2 L292.7 662.4 L293.6 663.1 L294.5 663.1 L295.4 662.9 L296.4 663.5 L297.4 664.4 L298.5 664.3 L299.6 664.8 L300.7 665.5 L301.7 665.7 L302.8 667.0 L303.8 666.5 L304.8 668.3 L305.7 668.2 L306.5 668.5 L307.3 669.6 L308.0 669.5 L308.7 670.9 L309.3 671.6 L309.9 671.8 L310.6 672.5 L311.2 673.6 L311.8 673.6 L312.5 674.5 L313.2 675.3 L313.9 676.4 L314.6 676.4 L315.3 677.3 L315.9 678.4 L316.6 677.8 L317.3 679.3 L318.0 679.4 L318.7 680.0 L319.4 682.0 L320.1 682.0 L320.8 683.0 L321.5 683.0 L322.3 683.9 L323.0 684.1 L323.7 684.6 L324.4 685.3 L325.0 685.8 L325.6 686.7 L326.2 686.4 L326.7 686.9 L327.2 687.0 L327.6 687.3 L328.0 687.0 L328.4 688.0 L328.8 687.6 L329.1 687.8 L329.5 687.8 L329.9 688.2 L330.3 688.0 L330.7 687.7 L331.2 687.6 L331.6 687.5 L332.1 687.5 L332.5 687.1 L333.0 687.1 L333.4 686.9 L333.9 686.3 L334.3 685.3 L334.7 686.0 L335.1 685.8 L335.5 684.5 L335.9 684.0 L336.3 683.0 L336.7 683.5 L337.1 682.4 L337.4 682.9 L337.7 681.0 L338.0 681.6 L338.2 681.5" fill="none" stroke="#fb0d12" stroke-width="1.80" stroke-linejoin="round" stroke-linecap="round"/>
<line x1="286.9" y1="659.0" x2="286.9" y2="664.0" stroke="#fb0d12" stroke-width="1.00"/>
<line x1="141.5" y1="636.5" x2="141.5" y2="643.0" stroke="#fb0d12" stroke-width="1.00"/>
<path d="M66.5 784.8 L67.7 784.8 L69.3 784.8 L71.1 784.7 L73.2 784.7 L75.4 784.7 L77.9 784.6 L80.4 784.5 L83.0 784.3 L85.7 784.1 L88.7 783.8 L91.8 783.5 L95.1 783.2 L98.4 782.9 L101.8 782.5 L105.1 782.2 L108.3 781.8 L111.6 781.4 L115.0 781.0 L118.4 780.6 L121.8 780.2 L125.1 779.7 L128.3 779.3 L131.1 779.0 L133.6 778.7 L135.7 778.5 L137.6 778.3 L139.2 778.1 L140.6 778.0 L141.8 777.9 L142.9 777.8 L144.0 777.7 L145.0 777.6 L146.0 777.5 L146.8 777.5 L147.5 777.4 L148.2 777.4 L148.8 777.4 L149.3 777.3 L149.8 777.3 L150.3 777.3 L150.8 777.3 L151.2 777.3 L151.5 777.2 L151.8 777.2 L152.1 777.2 L152.4 777.2 L152.7 777.3 L153.0 777.3 L153.3 777.3 L153.6 777.3 L153.9 777.3 L154.2 777.4 L154.5 777.4 L154.8 777.5 L155.0 777.8 L155.3 778.1 L155.6 778.5 L155.8 778.8 L156.1 779.2 L156.4 779.7 L156.6 780.3 L156.9 781.2 L157.1 782.3 L157.3 783.7 L157.5 785.5 L157.7 787.7 L157.8 790.1 L158.0 792.7 L158.1 795.5 L158.3 798.3 L158.4 801.2 L158.6 803.9 L158.8 806.7 L158.9 809.8 L159.1 812.9 L159.3 816.1 L159.5 819.2 L159.6 822.0 L159.8 824.6 L159.9 826.7 L160.0 828.4 L160.1 829.9 L160.2 831.1 L160.3 832.1 L160.3 832.9 L160.4 833.4 L160.5 833.7 L160.6 833.8 L160.7 833.7 L160.8 833.4 L160.9 832.9 L161.0 832.1 L161.1 831.1 L161.2 829.9 L161.4 828.4 L161.6 826.7 L161.8 824.5 L162.1 821.9 L162.5 819.0 L162.8 815.8 L163.2 812.6 L163.5 809.4 L163.9 806.5 L164.2 803.9 L164.5 801.6 L164.8 799.4 L165.1 797.4 L165.5 795.4 L165.8 793.6 L166.1 791.9 L166.4 790.2 L166.7 788.7 L167.0 787.3 L167.3 785.9 L167.6 784.7 L167.9 783.6 L168.2 782.6 L168.5 781.6 L168.8 780.7 L169.2 779.9 L169.6 779.1 L170.0 778.5 L170.4 777.9 L170.8 777.3 L171.2 776.9 L171.7 776.5 L172.1 776.3 L172.5 776.1 L172.9 776.1 L173.3 776.2 L173.6 776.5 L174.0 776.8 L174.4 777.1 L174.8 777.5 L175.2 777.8 L175.6 778.1 L176.0 778.3 L176.5 778.5 L176.9 778.7 L177.3 778.9 L177.8 779.1 L178.3 779.3 L178.8 779.4 L179.4 779.4 L180.0 779.4 L180.6 779.3 L181.2 779.3 L181.9 779.1 L182.6 779.0 L183.4 778.8 L184.2 778.6 L185.0 778.4 L185.9 778.2 L186.8 777.9 L187.7 777.6 L188.7 777.4 L189.8 777.0 L190.9 776.7 L192.0 776.4 L193.3 776.1 L194.7 775.8 L196.1 775.5 L197.7 775.2 L199.3 774.9 L201.0 774.5 L202.6 774.2 L204.3 773.9 L205.9 773.5 L207.5 773.1 L209.1 772.7 L210.7 772.4 L212.3 771.9 L213.9 771.5 L215.5 771.1 L217.1 770.7 L218.6 770.3 L220.1 769.9 L221.7 769.5 L223.2 769.0 L224.8 768.6 L226.2 768.1 L227.7 767.7 L229.1 767.3 L230.5 766.9 L231.8 766.5 L233.0 766.1 L234.2 765.8 L235.4 765.4 L236.6 765.1 L237.7 764.7 L238.8 764.4 L240.0 764.0 L241.2 763.6 L242.6 763.1 L243.9 762.6 L245.2 762.2 L246.5 761.7 L247.6 761.3 L248.6 761.0 L249.3 760.7" fill="none" stroke="#1e40ff" stroke-width="2.00" stroke-linejoin="round" stroke-linecap="round"/>
<path d="M249.3 760.7 L249.6 760.0 L249.9 759.2 L250.3 758.3 L250.8 757.2 L251.3 755.9 L251.8 754.6 L252.3 753.1 L252.7 751.5 L253.1 749.7 L253.5 747.7 L254.0 745.6 L254.4 743.3 L254.8 741.0 L255.2 738.7 L255.7 736.5 L256.1 734.4 L256.5 732.4 L256.9 730.5 L257.3 728.6 L257.7 726.7 L258.2 724.9 L258.6 723.1 L259.1 721.3 L259.6 719.5 L260.2 717.7 L260.8 715.8 L261.4 714.0 L262.1 712.2 L262.7 710.4 L263.4 708.7 L264.1 707.2 L264.7 705.8 L265.3 704.6 L265.9 703.5 L266.5 702.5 L267.1 701.6 L267.8 700.8 L268.4 700.0 L269.1 699.3 L269.8 698.5 L270.6 697.7 L271.4 697.0 L272.2 696.4 L273.1 695.7 L274.0 695.1 L274.9 694.5 L275.7 693.9 L276.6 693.4 L277.5 692.9 L278.4 692.4 L279.3 692.0 L280.3 691.6 L281.2 691.2 L282.0 690.8 L282.8 690.4 L283.5 690.0 L284.1 689.6 L284.5 689.1 L284.9 688.6 L285.2 688.1 L285.5 687.6 L285.9 687.2 L286.3 686.8 L286.9 686.5 L287.6 686.3 L288.4 686.1 L289.2 686.0 L290.1 685.9 L291.0 685.9 L291.9 685.8 L292.8 685.6 L293.7 685.4 L294.6 685.1 L295.5 684.8 L296.4 684.4 L297.3 684.0 L298.1 683.5 L299.0 683.0 L299.8 682.5 L300.6 682.0 L301.3 681.5 L302.0 681.0 L302.6 680.4 L303.3 679.9 L303.9 679.3 L304.5 678.6 L305.1 677.8 L305.7 676.9 L306.3 675.9 L307.0 674.8 L307.6 673.7 L308.2 672.5 L308.9 671.2 L309.5 669.8 L310.2 668.2 L310.8 666.6 L311.4 664.8 L312.1 662.9 L312.7 660.8 L313.3 658.6 L314.0 656.4 L314.6 654.1 L315.3 651.9 L315.9 649.6 L316.6 647.3 L317.2 644.8 L317.9 642.3 L318.6 639.7 L319.3 637.3 L319.9 634.9 L320.5 632.7 L321.1 630.8 L321.6 629.1 L322.1 627.6 L322.5 626.3 L322.9 625.1 L323.3 624.0 L323.7 623.0 L324.1 622.1 L324.5 621.2 L324.9 620.4 L325.4 619.6 L325.8 618.9 L326.3 618.3 L326.7 617.8 L327.1 617.5 L327.5 617.2 L327.9 617.1 L328.2 617.1 L328.6 617.2 L328.9 617.4 L329.1 617.8 L329.4 618.3 L329.7 618.9 L330.0 619.6 L330.3 620.5 L330.6 621.5 L330.9 622.7 L331.3 624.1 L331.6 625.5 L331.9 627.1 L332.3 628.8 L332.6 630.6 L333.0 632.5 L333.4 634.6 L333.9 637.0 L334.3 639.5 L334.8 642.2 L335.3 644.8 L335.7 647.2 L336.1 649.4 L336.5 651.3 L336.8 652.8 L337.1 654.1 L337.3 655.3 L337.6 656.2 L337.8 657.0 L337.9 657.7 L338.1 658.3 L338.2 658.8" fill="none" stroke="#1e40ff" stroke-width="2.00" stroke-linejoin="round" stroke-linecap="round"/>
</svg>
</body></html>
